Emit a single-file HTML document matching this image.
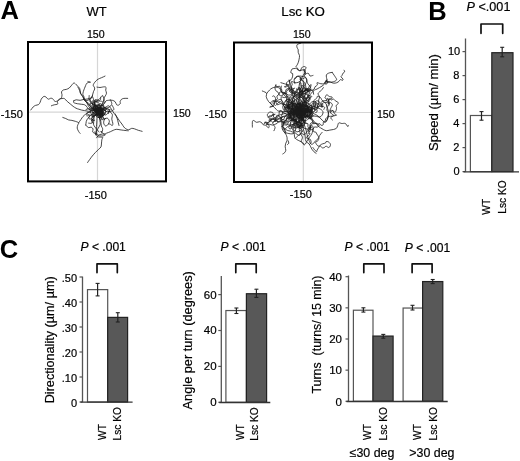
<!DOCTYPE html>
<html><head><meta charset="utf-8"><style>
html,body{margin:0;padding:0;background:#fff;}
body{width:520px;height:461px;overflow:hidden;}
svg{display:block;font-family:"Liberation Sans", sans-serif;filter:grayscale(1);}
</style></head><body>
<svg width="520" height="461" viewBox="0 0 520 461">
<rect width="520" height="461" fill="#fff"/>
<line x1="97.5" y1="43" x2="97.5" y2="180.4" stroke="#d6d6d6" stroke-width="1.2"/>
<line x1="29" y1="112.2" x2="165" y2="112.2" stroke="#d6d6d6" stroke-width="1.2"/>
<line x1="303.3" y1="43.5" x2="303.3" y2="181" stroke="#d6d6d6" stroke-width="1.2"/>
<line x1="235" y1="112.5" x2="371" y2="112.5" stroke="#d6d6d6" stroke-width="1.2"/>
<path d="M30.8 110.0 C31.2 109.5 32.4 107.7 33.2 106.9 C34.0 106.1 34.6 105.8 35.5 105.4 C36.4 105.0 37.7 105.1 38.5 104.6 C39.3 104.1 39.6 103.2 40.1 102.3 C40.6 101.4 40.7 100.1 41.2 99.2 C41.7 98.3 42.6 97.2 43.2 96.8 C43.9 96.3 44.5 96.3 45.1 96.5 C45.7 96.7 46.4 97.6 47.0 98.1 C47.6 98.5 47.9 99.2 48.5 99.2 C49.1 99.2 49.9 98.4 50.5 98.3 C51.1 98.2 51.8 98.2 52.4 98.5 C53.0 98.8 53.4 99.9 53.9 100.4 C54.4 100.9 54.9 101.4 55.5 101.5 C56.1 101.6 56.8 101.2 57.4 100.8 C58.0 100.4 58.5 99.5 59.3 99.1 C60.1 98.7 61.1 98.6 62.0 98.5 C62.9 98.4 63.5 98.1 64.4 98.6 C65.3 99.1 66.3 100.6 67.3 101.5 C68.3 102.4 69.2 103.1 70.2 103.9 C71.2 104.7 72.1 105.6 73.1 106.3 C74.1 107.0 75.0 107.7 76.0 108.2 C77.0 108.7 77.8 108.9 78.8 109.2 C79.8 109.5 80.7 109.9 81.7 110.1 C82.7 110.3 83.6 110.4 84.6 110.6 C85.6 110.8 86.5 111.0 87.5 111.1 C88.5 111.2 88.7 111.6 90.4 111.1 C92.1 110.6 96.4 108.5 97.6 108.0" fill="none" stroke="#1a1a1a" stroke-width="0.8" stroke-linejoin="round" stroke-linecap="round"/>
<path d="M51.4 105.8 C51.9 105.6 53.3 105.0 54.3 104.8 C55.3 104.5 56.6 104.6 57.2 104.3 C57.8 104.0 58.0 103.4 58.0 103.0 C58.0 102.6 56.9 102.5 57.2 101.9 C57.5 101.3 58.9 100.2 59.6 99.5 C60.3 98.8 61.1 98.4 61.5 97.6 C61.9 96.8 62.0 95.7 62.0 94.7 C62.0 93.7 61.2 92.6 61.5 91.8 C61.8 91.0 62.7 90.3 63.5 89.9 C64.3 89.5 65.3 89.7 66.3 89.4 C67.2 89.1 68.4 88.6 69.2 88.0 C70.0 87.4 70.2 86.8 71.0 86.0 C71.8 85.2 73.0 83.2 73.8 83.0 C74.6 82.8 75.0 83.6 76.0 84.5 C77.0 85.4 78.8 86.9 79.6 88.3 C80.4 89.7 80.1 91.7 80.6 93.1 C81.1 94.5 81.9 95.4 82.5 96.5 C83.1 97.6 83.7 98.8 84.4 99.8 C85.1 100.8 86.1 101.6 86.8 102.7 C87.5 103.8 87.9 105.6 88.7 106.6 C89.5 107.6 90.5 107.9 91.6 108.5 C92.6 109.1 93.6 110.2 95.0 110.0 C96.4 109.8 99.3 107.8 100.2 107.4" fill="none" stroke="#1a1a1a" stroke-width="0.8" stroke-linejoin="round" stroke-linecap="round"/>
<path d="M73.8 100.8 C74.2 100.6 75.2 99.9 76.2 99.8 C77.2 99.7 78.8 100.4 80.1 100.3 C81.4 100.2 82.6 99.6 83.9 99.4 C85.2 99.2 86.6 99.2 87.8 98.9 C89.0 98.7 90.3 98.2 91.1 97.9 C91.9 97.6 92.1 96.5 92.6 97.0 C93.1 97.5 93.5 99.5 94.0 101.0 C94.5 102.5 94.6 104.5 95.5 106.0 C96.4 107.5 98.7 109.1 99.3 109.7" fill="none" stroke="#1a1a1a" stroke-width="0.8" stroke-linejoin="round" stroke-linecap="round"/>
<path d="M74.0 100.5 C73.9 100.8 73.3 101.9 73.6 102.4 C73.9 102.9 75.1 103.2 76.0 103.4 C76.9 103.7 77.8 103.8 78.8 103.9 C79.8 104.1 80.7 104.2 81.7 104.3 C82.7 104.4 83.7 104.4 84.6 104.8 C85.5 105.2 86.3 106.1 87.0 106.8 C87.7 107.5 87.1 108.5 88.5 109.2 C89.9 109.9 94.3 110.6 95.5 110.9" fill="none" stroke="#1a1a1a" stroke-width="0.8" stroke-linejoin="round" stroke-linecap="round"/>
<path d="M83.7 99.5 C84.2 99.7 85.5 100.5 86.5 100.5 C87.5 100.5 88.6 100.0 89.4 99.5 C90.2 99.0 90.8 98.3 91.3 97.6 C91.8 96.9 92.3 95.8 92.5 95.5" fill="none" stroke="#1a1a1a" stroke-width="0.8" stroke-linejoin="round" stroke-linecap="round"/>
<path d="M87.9 81.5 C88.3 81.6 90.4 82.0 90.5 82.2 C90.6 82.4 89.1 82.3 88.5 82.5 C87.9 82.7 87.2 82.9 86.7 83.4 C86.2 83.9 86.0 84.8 85.6 85.6 C85.2 86.4 84.9 87.3 84.5 88.3 C84.1 89.3 83.6 90.6 83.3 91.7 C83.0 92.8 82.8 93.8 82.9 94.7 C83.0 95.6 84.0 96.2 84.1 97.0 C84.2 97.8 83.4 98.5 83.7 99.3 C84.0 100.1 85.1 101.0 86.0 102.0 C86.9 103.0 88.0 104.0 89.0 105.0 C90.0 106.0 91.0 107.1 92.0 108.0 C93.0 108.9 94.7 109.9 95.3 110.3" fill="none" stroke="#1a1a1a" stroke-width="0.8" stroke-linejoin="round" stroke-linecap="round"/>
<path d="M78.0 87.5 C78.2 88.0 79.1 89.2 79.5 90.2 C79.9 91.2 79.8 92.3 80.3 93.2 C80.8 94.1 81.6 94.7 82.2 95.5 C82.8 96.3 83.3 97.0 84.0 98.0 C84.7 99.0 85.5 100.4 86.5 101.5 C87.5 102.6 88.8 103.4 90.0 104.5 C91.2 105.6 93.1 107.5 94.0 108.0 C94.9 108.5 95.3 107.6 95.6 107.5" fill="none" stroke="#1a1a1a" stroke-width="0.8" stroke-linejoin="round" stroke-linecap="round"/>
<path d="M105.0 76.1 C104.4 76.4 102.7 77.2 101.5 77.7 C100.3 78.2 99.0 78.6 98.1 79.2 C97.1 79.8 96.5 80.4 95.8 81.1 C95.1 81.8 94.4 82.7 94.0 83.4 C93.6 84.1 93.2 84.7 93.2 85.3 C93.2 85.9 94.0 86.5 94.3 87.1 C94.5 87.7 94.8 88.3 94.7 89.0 C94.6 89.7 93.9 90.5 93.6 91.3 C93.3 92.1 93.1 93.0 92.8 94.0 C92.5 95.0 92.3 96.2 92.0 97.0 C91.7 97.8 91.2 98.0 90.9 98.5 C90.6 99.0 89.9 99.2 90.1 100.1 C90.3 101.0 91.2 102.8 92.0 104.0 C92.8 105.2 93.9 105.9 95.0 107.5 C96.1 109.1 97.8 112.4 98.4 113.4" fill="none" stroke="#1a1a1a" stroke-width="0.8" stroke-linejoin="round" stroke-linecap="round"/>
<path d="M97.0 87.1 C97.5 87.2 99.1 87.5 100.0 87.5 C100.9 87.5 101.5 87.2 102.3 87.1 C103.1 87.0 104.0 86.7 104.6 86.8 C105.2 86.9 105.9 86.9 106.1 87.5 C106.3 88.1 105.6 89.2 105.7 90.2 C105.8 91.2 106.6 92.2 106.5 93.2 C106.4 94.2 105.8 95.0 105.3 95.9 C104.8 96.8 104.1 97.6 103.8 98.5 C103.5 99.4 103.7 100.3 103.4 101.2 C103.1 102.1 102.8 102.7 102.2 103.7 C101.6 104.7 101.0 106.2 100.0 107.0 C99.0 107.8 96.7 108.3 96.0 108.6" fill="none" stroke="#1a1a1a" stroke-width="0.8" stroke-linejoin="round" stroke-linecap="round"/>
<path d="M127.7 98.4 C127.0 98.4 124.8 98.2 123.8 98.4 C122.8 98.6 122.0 98.8 121.4 99.4 C120.8 100.0 120.2 101.2 120.0 101.8 C119.8 102.4 120.7 102.7 120.5 103.2 C120.3 103.8 119.2 104.8 118.6 105.1 C117.9 105.3 117.2 105.2 116.6 104.7 C116.0 104.2 115.9 102.5 115.2 101.8 C114.5 101.1 113.4 100.5 112.3 100.3 C111.2 100.0 109.5 100.2 108.5 100.3 C107.5 100.4 106.8 100.4 106.1 100.8 C105.4 101.2 105.3 101.8 104.6 102.7 C103.9 103.6 102.8 105.0 102.0 106.0 C101.2 107.0 100.3 107.1 100.0 108.5 C99.7 109.9 100.0 113.4 100.0 114.4" fill="none" stroke="#1a1a1a" stroke-width="0.8" stroke-linejoin="round" stroke-linecap="round"/>
<path d="M110.4 99.8 C110.6 100.5 111.9 102.6 111.8 103.7 C111.7 104.8 110.9 105.8 109.9 106.6 C108.9 107.4 107.3 107.9 106.0 108.5 C104.7 109.1 103.1 109.8 102.0 110.0 C100.9 110.2 100.0 110.0 99.6 110.0" fill="none" stroke="#1a1a1a" stroke-width="0.8" stroke-linejoin="round" stroke-linecap="round"/>
<path d="M112.3 105.6 C112.5 106.2 114.2 108.5 113.8 109.5 C113.4 110.5 111.5 111.2 110.0 111.5 C108.5 111.8 106.2 111.7 105.0 111.0 C103.8 110.3 103.2 107.8 102.8 107.2" fill="none" stroke="#1a1a1a" stroke-width="0.8" stroke-linejoin="round" stroke-linecap="round"/>
<path d="M62.8 117.5 C63.3 117.7 64.8 118.1 65.7 118.5 C66.7 118.9 67.5 119.6 68.5 119.9 C69.5 120.2 70.8 120.2 71.9 120.4 C73.0 120.6 74.2 120.9 75.3 121.3 C76.4 121.7 78.2 122.1 78.6 122.8 C79.0 123.5 77.9 124.3 77.7 125.2 C77.5 126.1 77.1 127.1 77.2 128.1 C77.3 129.1 78.1 130.5 78.6 131.4 C79.1 132.3 79.8 133.1 80.1 133.4" fill="none" stroke="#1a1a1a" stroke-width="0.8" stroke-linejoin="round" stroke-linecap="round"/>
<path d="M78.6 122.8 C79.0 122.2 80.3 120.5 81.0 119.4 C81.7 118.4 82.2 117.4 83.0 116.5 C83.8 115.6 84.7 114.9 85.8 114.1 C86.9 113.3 88.6 112.3 89.7 111.7 C90.8 111.1 90.6 110.7 92.6 110.3 C94.6 109.9 100.3 109.3 101.9 109.1" fill="none" stroke="#1a1a1a" stroke-width="0.8" stroke-linejoin="round" stroke-linecap="round"/>
<path d="M85.8 125.2 C85.9 124.5 86.0 122.4 86.3 121.3 C86.6 120.2 87.1 119.5 87.8 118.5 C88.5 117.5 89.3 116.5 90.2 115.6 C91.1 114.7 92.1 114.5 93.1 113.2 C94.1 111.9 95.6 108.7 96.2 107.7" fill="none" stroke="#1a1a1a" stroke-width="0.8" stroke-linejoin="round" stroke-linecap="round"/>
<path d="M85.8 125.2 C86.3 125.6 87.8 127.3 88.7 127.6 C89.6 127.9 90.4 126.9 91.1 127.1 C91.8 127.3 92.8 128.2 93.1 129.0 C93.3 129.8 92.3 131.2 92.6 131.9 C92.9 132.6 94.2 133.0 95.0 133.4 C95.8 133.8 96.7 133.9 97.4 134.3 C98.1 134.7 98.3 135.6 99.3 135.8 C100.3 136.1 102.2 136.0 103.2 135.8 C104.2 135.6 105.3 135.1 105.4 134.8 C105.5 134.5 104.3 134.0 103.6 133.9 C102.9 133.8 101.9 134.1 101.0 134.3 C100.1 134.5 99.1 134.6 98.4 135.2 C97.7 135.8 97.0 137.4 96.7 137.8" fill="none" stroke="#1a1a1a" stroke-width="0.8" stroke-linejoin="round" stroke-linecap="round"/>
<path d="M93.5 114.6 C93.6 115.4 94.0 117.8 94.0 119.4 C94.0 121.0 93.3 122.9 93.5 124.2 C93.7 125.5 94.3 126.1 95.0 127.1 C95.7 128.1 96.7 129.2 97.4 130.0 C98.1 130.8 98.7 131.7 99.0 132.0" fill="none" stroke="#1a1a1a" stroke-width="0.8" stroke-linejoin="round" stroke-linecap="round"/>
<path d="M99.3 115.6 C99.4 116.4 99.6 119.0 99.8 120.4 C100.0 121.8 100.5 122.9 100.3 124.2 C100.0 125.5 98.9 127.0 98.3 128.1 C97.7 129.2 96.9 129.8 96.5 131.0 C96.1 132.2 96.0 135.1 95.8 135.2 C95.5 135.3 95.1 132.3 95.0 131.7" fill="none" stroke="#1a1a1a" stroke-width="0.8" stroke-linejoin="round" stroke-linecap="round"/>
<path d="M97.5 113.3 C97.4 113.8 97.1 114.6 97.0 116.0 C96.9 117.4 96.9 119.5 96.8 122.0 C96.7 124.5 96.2 128.7 96.3 131.1 C96.4 133.5 96.3 135.3 97.2 136.3 C98.1 137.3 100.6 137.0 101.5 137.2 C102.4 137.4 102.7 137.0 102.8 137.4 C102.9 137.8 102.1 138.6 101.9 139.5 C101.7 140.4 101.7 141.8 101.5 143.0 C101.3 144.2 101.5 145.8 101.0 146.9 C100.5 148.0 99.3 148.6 98.4 149.5 C97.5 150.4 96.4 151.4 95.4 152.5 C94.4 153.6 93.2 154.8 92.3 156.0 C91.3 157.2 90.5 158.4 89.7 159.5 C88.9 160.6 87.9 162.0 87.6 162.5" fill="none" stroke="#1a1a1a" stroke-width="0.8" stroke-linejoin="round" stroke-linecap="round"/>
<path d="M142.1 131.3 C141.5 131.1 139.6 130.7 138.3 130.3 C137.0 129.9 135.5 129.1 134.4 128.8 C133.3 128.5 132.4 128.2 131.5 128.4 C130.6 128.6 129.6 129.7 128.7 129.8 C127.7 129.9 126.6 129.3 125.8 128.8 C125.0 128.3 124.4 127.7 123.8 126.9 C123.2 126.1 122.5 124.9 121.9 124.0 C121.3 123.1 120.6 122.5 120.0 121.6 C119.4 120.7 118.7 119.8 118.1 118.8 C117.5 117.8 116.8 116.8 116.2 115.9 C115.6 115.0 114.9 114.4 114.2 113.5 C113.5 112.6 112.9 111.6 112.3 110.6 C111.7 109.6 111.0 108.5 110.4 107.7 C109.8 106.9 109.6 105.8 108.5 105.8 C107.4 105.8 106.0 107.1 104.0 108.0 C102.0 108.9 97.7 110.9 96.4 111.5" fill="none" stroke="#1a1a1a" stroke-width="0.8" stroke-linejoin="round" stroke-linecap="round"/>
<path d="M128.2 130.8 C127.5 130.7 125.2 130.5 123.8 130.3 C122.4 130.1 121.3 130.0 120.0 129.8 C118.7 129.6 117.3 129.2 116.2 129.3 C115.1 129.4 114.3 129.9 113.3 130.3 C112.3 130.7 111.5 131.2 110.4 131.7 C109.3 132.2 107.6 132.8 106.5 133.2 C105.4 133.6 104.6 134.5 103.7 134.1 C102.8 133.7 101.3 131.2 101.0 131.0 C100.7 130.8 101.4 133.1 101.7 132.7 C102.0 132.3 102.8 129.9 102.7 128.8 C102.6 127.7 101.6 127.3 101.3 126.0 C101.0 124.7 101.2 122.9 100.8 121.2 C100.4 119.5 99.1 117.9 99.0 116.0 C98.9 114.1 99.9 110.8 100.1 109.8" fill="none" stroke="#1a1a1a" stroke-width="0.8" stroke-linejoin="round" stroke-linecap="round"/>
<path d="M115.2 113.9 C115.5 114.6 116.6 116.9 117.1 118.3 C117.6 119.7 117.8 120.9 118.1 122.1 C118.4 123.3 118.8 124.9 119.0 125.5" fill="none" stroke="#1a1a1a" stroke-width="0.8" stroke-linejoin="round" stroke-linecap="round"/>
<path d="M109.4 111.5 C109.9 112.0 111.9 113.1 112.3 114.4 C112.7 115.7 111.7 117.8 111.8 119.2 C111.9 120.7 112.7 122.0 112.8 123.1 C112.9 124.1 112.8 125.3 112.3 125.5 C111.8 125.7 110.6 124.2 110.0 124.0 C109.4 123.8 108.6 124.5 108.5 124.0 C108.4 123.5 109.6 122.2 109.4 121.2 C109.2 120.2 108.3 118.6 107.5 118.3 C106.7 118.0 105.2 118.4 104.6 119.2 C104.0 120.0 103.5 122.0 103.7 123.1 C103.9 124.2 104.8 125.8 105.6 126.0 C106.4 126.2 108.0 124.3 108.5 124.0" fill="none" stroke="#1a1a1a" stroke-width="0.8" stroke-linejoin="round" stroke-linecap="round"/>
<path d="M98.8 109.8 C98.6 110.1 98.1 111.1 97.8 111.6 C97.6 112.1 97.4 112.8 97.1 113.0 C96.7 113.2 96.2 112.7 95.8 112.7 C95.5 112.8 95.2 113.1 94.8 113.2 C94.4 113.4 93.9 113.4 93.5 113.7 C93.2 114.0 92.7 114.5 92.6 115.0 C92.5 115.5 93.2 116.3 93.1 116.7 C93.0 117.0 92.4 116.9 92.2 117.2 C92.0 117.5 92.1 117.9 92.0 118.5 C91.9 119.1 91.8 120.6 91.7 120.8 C91.7 121.0 91.3 119.9 91.6 119.8 C91.8 119.6 92.8 119.8 93.3 119.9 C93.7 120.1 94.2 121.0 94.3 120.9 C94.4 120.9 93.9 119.8 93.8 119.6" fill="none" stroke="#1a1a1a" stroke-width="0.8" stroke-linejoin="round" stroke-linecap="round"/>
<path d="M98.2 110.4 C98.5 110.5 99.3 111.2 99.8 111.4 C100.2 111.6 100.3 111.7 100.8 111.4 C101.2 111.2 102.6 110.4 102.6 110.0 C102.6 109.7 101.4 109.3 100.7 109.2 C100.1 109.0 99.2 109.1 98.9 108.9 C98.6 108.7 99.0 108.3 98.9 108.0 C98.8 107.7 98.3 107.6 98.1 107.3 C97.8 107.1 97.7 106.9 97.5 106.5 C97.2 106.2 97.1 105.7 96.8 105.5 C96.4 105.3 95.8 105.4 95.3 105.2 C94.9 105.0 94.6 104.5 94.1 104.3 C93.6 104.1 92.5 104.3 92.4 104.0 C92.4 103.6 93.5 102.6 93.8 102.3" fill="none" stroke="#1a1a1a" stroke-width="0.8" stroke-linejoin="round" stroke-linecap="round"/>
<path d="M98.0 110.2 C98.3 110.2 99.0 110.2 99.5 110.2 C99.9 110.3 100.2 110.2 100.6 110.4 C101.0 110.6 101.9 111.5 101.9 111.6 C102.0 111.8 101.2 111.4 100.9 111.2 C100.5 111.0 99.9 110.8 99.8 110.4 C99.7 110.0 99.9 108.9 100.2 108.6 C100.5 108.4 101.5 108.4 101.5 108.8 C101.5 109.1 100.5 110.6 100.2 110.6 C99.9 110.6 99.8 109.5 99.5 108.9 C99.2 108.3 98.6 107.4 98.4 107.1" fill="none" stroke="#1a1a1a" stroke-width="0.8" stroke-linejoin="round" stroke-linecap="round"/>
<path d="M98.1 110.2 C98.1 110.5 98.2 111.5 98.1 112.0 C98.0 112.5 97.7 112.7 97.4 113.0 C97.2 113.3 96.9 113.6 96.7 113.8 C96.5 114.1 96.5 114.4 96.2 114.6 C96.0 114.9 95.6 115.3 95.4 115.3 C95.1 115.4 94.8 115.3 94.5 114.9 C94.3 114.5 94.3 113.3 94.0 112.8 C93.8 112.3 93.4 112.1 93.1 112.0 C92.7 111.8 92.2 111.7 91.7 111.8 C91.1 111.9 90.4 112.5 89.7 112.6 C89.0 112.6 87.8 112.0 87.4 112.1 C87.0 112.2 87.4 112.8 87.3 113.1 C87.2 113.4 86.9 113.5 86.8 114.0 C86.8 114.5 87.2 115.7 87.2 116.1" fill="none" stroke="#1a1a1a" stroke-width="0.8" stroke-linejoin="round" stroke-linecap="round"/>
<path d="M99.5 110.3 C99.7 110.2 100.6 110.1 100.8 109.7 C101.0 109.3 100.7 107.8 100.7 107.7 C100.7 107.6 100.6 108.5 100.7 109.0 C100.9 109.6 101.2 110.5 101.6 111.0 C101.9 111.5 102.7 111.6 102.9 112.0 C103.1 112.3 102.5 112.7 102.6 113.1 C102.7 113.6 103.1 114.6 103.4 114.6 C103.7 114.6 104.1 113.3 104.3 113.0" fill="none" stroke="#1a1a1a" stroke-width="0.8" stroke-linejoin="round" stroke-linecap="round"/>
<path d="M99.0 111.3 C98.9 111.5 98.4 112.1 98.4 112.4 C98.4 112.7 98.9 112.8 99.2 113.0 C99.4 113.1 99.6 113.3 100.0 113.4 C100.4 113.6 101.5 113.5 101.8 113.9 C102.2 114.4 102.2 116.2 102.1 116.2 C102.1 116.2 101.2 114.6 101.4 114.0 C101.5 113.4 102.7 112.9 103.0 112.4 C103.3 112.0 103.0 111.5 103.2 111.2 C103.3 110.9 103.9 110.6 104.1 110.5" fill="none" stroke="#1a1a1a" stroke-width="0.8" stroke-linejoin="round" stroke-linecap="round"/>
<path d="M96.7 111.1 C96.8 111.2 97.3 111.7 97.6 112.1 C98.0 112.5 98.5 113.0 98.8 113.5 C99.1 114.0 98.9 114.5 99.2 114.9 C99.6 115.3 100.6 115.5 100.8 116.0 C101.1 116.4 100.8 117.5 100.8 117.5 C100.7 117.5 100.5 115.7 100.5 115.7 C100.6 115.7 101.1 117.3 100.9 117.6 C100.7 117.9 99.8 117.5 99.3 117.4 C98.9 117.3 98.4 117.3 98.2 117.3" fill="none" stroke="#1a1a1a" stroke-width="0.8" stroke-linejoin="round" stroke-linecap="round"/>
<path d="M98.7 111.9 C98.4 111.8 97.2 111.4 96.8 111.6 C96.5 111.8 96.3 112.8 96.6 113.2 C96.9 113.6 98.3 113.8 98.6 114.1 C99.0 114.4 99.1 114.8 98.7 115.0 C98.4 115.2 97.3 115.1 96.7 115.2 C96.0 115.3 95.2 115.4 94.7 115.6 C94.3 115.8 94.5 116.4 94.0 116.5 C93.6 116.6 92.3 116.3 91.9 116.3" fill="none" stroke="#1a1a1a" stroke-width="0.8" stroke-linejoin="round" stroke-linecap="round"/>
<path d="M99.0 110.8 C98.7 110.9 97.8 111.3 97.3 111.4 C96.9 111.6 96.7 112.2 96.4 111.9 C96.0 111.7 95.8 110.3 95.3 110.0 C94.9 109.6 94.0 110.2 93.6 109.8 C93.3 109.5 93.3 107.8 93.2 107.7 C93.2 107.6 93.2 109.0 93.2 109.3" fill="none" stroke="#1a1a1a" stroke-width="0.8" stroke-linejoin="round" stroke-linecap="round"/>
<path d="M99.9 111.4 C100.1 111.6 101.1 112.6 101.4 112.6 C101.8 112.6 101.8 111.7 101.7 111.5 C101.5 111.3 100.9 111.3 100.6 111.3 C100.3 111.4 100.0 111.4 99.7 111.7 C99.3 112.0 98.4 112.8 98.5 113.2 C98.6 113.6 99.6 114.0 100.3 114.2 C100.9 114.5 102.0 114.5 102.4 114.7 C102.8 114.9 102.7 115.2 102.8 115.5 C102.9 115.9 102.8 116.1 102.9 116.6 C103.1 117.1 103.7 118.1 103.9 118.6 C104.1 119.0 103.9 119.5 104.2 119.5 C104.5 119.5 105.6 118.6 105.7 118.5 C105.7 118.3 105.0 118.5 104.5 118.7 C104.0 118.8 103.0 119.4 102.7 119.6" fill="none" stroke="#1a1a1a" stroke-width="0.8" stroke-linejoin="round" stroke-linecap="round"/>
<path d="M99.9 112.0 C99.9 111.6 99.9 110.4 99.8 109.7 C99.8 109.0 99.2 107.8 99.5 107.5 C99.8 107.2 101.0 107.6 101.6 107.9 C102.1 108.1 102.5 108.5 102.8 108.8 C103.0 109.2 102.9 109.3 103.1 109.8 C103.2 110.3 103.6 111.0 103.6 111.6 C103.5 112.2 103.3 113.0 102.9 113.5 C102.5 114.0 101.7 114.1 101.3 114.6 C100.9 115.0 100.8 116.2 100.4 116.2 C100.0 116.2 99.0 114.7 98.9 114.5 C98.9 114.2 99.9 114.4 100.1 114.6 C100.3 114.9 99.9 115.6 100.1 116.2 C100.3 116.9 100.9 117.8 101.1 118.4 C101.2 119.0 101.1 119.6 101.1 119.9" fill="none" stroke="#1a1a1a" stroke-width="0.8" stroke-linejoin="round" stroke-linecap="round"/>
<path d="M98.6 110.1 C98.4 110.1 97.9 109.9 97.6 110.1 C97.2 110.3 97.1 111.2 96.6 111.4 C96.1 111.5 95.1 111.0 94.7 111.2 C94.3 111.3 94.7 112.2 94.3 112.4 C93.8 112.7 92.2 112.6 92.0 112.5 C91.8 112.4 92.8 111.6 93.0 111.8 C93.2 112.0 93.3 113.4 93.0 114.0 C92.7 114.5 91.7 115.0 91.2 115.1 C90.7 115.3 90.6 115.2 90.0 115.1 C89.5 115.0 88.0 114.7 87.9 114.8 C87.8 114.9 89.4 115.3 89.6 115.7 C89.7 116.1 89.0 116.7 88.9 117.3 C88.9 117.8 88.9 118.6 89.2 118.9 C89.4 119.2 90.2 119.0 90.5 119.0" fill="none" stroke="#1a1a1a" stroke-width="0.8" stroke-linejoin="round" stroke-linecap="round"/>
<path d="M99.0 110.5 C99.3 110.5 100.2 110.3 100.8 110.3 C101.5 110.3 102.5 110.5 103.0 110.5 C103.4 110.4 103.5 109.9 103.8 110.0 C104.2 110.0 104.6 110.8 105.0 110.7 C105.4 110.6 105.9 109.7 106.3 109.6 C106.7 109.5 106.9 110.0 107.3 110.0 C107.8 110.0 108.5 109.8 108.9 109.7 C109.4 109.7 109.9 109.6 110.1 109.6" fill="none" stroke="#1a1a1a" stroke-width="0.8" stroke-linejoin="round" stroke-linecap="round"/>
<path d="M99.4 111.6 C99.6 111.8 100.2 112.3 100.5 112.8 C100.8 113.3 101.2 114.2 101.1 114.6 C100.9 114.9 100.1 115.1 99.8 115.0 C99.6 114.9 99.5 114.2 99.6 114.1 C99.7 113.9 100.5 113.7 100.5 113.9 C100.5 114.2 99.9 115.2 99.8 115.4" fill="none" stroke="#1a1a1a" stroke-width="0.8" stroke-linejoin="round" stroke-linecap="round"/>
<path d="M98.9 111.1 C99.0 110.9 99.2 109.7 99.1 109.6 C99.1 109.6 98.8 110.5 98.5 111.0 C98.3 111.4 97.6 112.0 97.7 112.4 C97.7 112.7 99.0 112.8 98.9 113.0 C98.8 113.2 97.4 113.4 96.9 113.7 C96.4 114.0 95.9 114.6 96.0 114.8 C96.1 115.1 97.0 114.9 97.4 115.1 C97.7 115.3 97.7 115.5 98.0 115.9 C98.2 116.3 98.5 117.4 98.7 117.7" fill="none" stroke="#1a1a1a" stroke-width="0.8" stroke-linejoin="round" stroke-linecap="round"/>
<path d="M98.8 110.9 C98.4 111.0 97.1 111.7 96.5 111.5 C96.0 111.4 95.8 110.5 95.5 110.1 C95.2 109.7 95.0 109.5 94.7 109.3 C94.3 109.1 93.6 109.1 93.5 108.8 C93.3 108.5 93.6 108.1 93.8 107.5 C93.9 106.9 94.2 106.0 94.3 105.2 C94.4 104.5 94.4 103.6 94.5 103.1 C94.6 102.5 94.8 102.2 95.0 102.0 C95.2 101.7 95.5 101.3 95.8 101.4 C96.1 101.4 96.7 102.0 96.9 102.2" fill="none" stroke="#1a1a1a" stroke-width="0.8" stroke-linejoin="round" stroke-linecap="round"/>
<path d="M99.0 112.2 C99.2 112.4 99.7 113.3 100.1 113.6 C100.5 113.8 101.1 113.8 101.5 113.8 C101.9 113.7 102.3 113.0 102.4 113.3 C102.6 113.6 102.7 114.9 102.6 115.6 C102.4 116.3 101.7 116.9 101.6 117.5 C101.5 118.2 101.7 119.4 102.0 119.5 C102.3 119.6 103.4 118.6 103.4 118.2 C103.5 117.7 102.8 117.2 102.5 116.9 C102.2 116.6 101.7 116.4 101.5 116.4" fill="none" stroke="#1a1a1a" stroke-width="0.8" stroke-linejoin="round" stroke-linecap="round"/>
<path d="M100.1 109.9 C99.9 109.9 99.2 109.4 99.0 109.7 C98.8 110.0 98.9 111.1 99.0 111.8 C99.0 112.4 99.6 113.1 99.4 113.8 C99.3 114.4 98.0 115.0 98.1 115.5 C98.1 115.9 99.3 116.2 99.7 116.3 C100.2 116.5 100.4 116.6 100.7 116.4 C101.0 116.3 101.2 116.1 101.4 115.6 C101.5 115.1 101.5 114.1 101.8 113.5 C102.1 113.0 103.0 112.7 103.0 112.3 C102.9 111.8 102.1 110.9 101.7 110.9 C101.3 110.8 100.5 112.0 100.5 111.8 C100.4 111.7 101.1 110.6 101.3 110.1 C101.6 109.5 102.2 108.9 102.1 108.6 C102.1 108.4 101.3 108.7 101.1 108.7" fill="none" stroke="#1a1a1a" stroke-width="0.8" stroke-linejoin="round" stroke-linecap="round"/>
<path d="M98.7 110.8 C98.5 111.0 98.1 112.0 97.5 112.3 C96.9 112.6 95.5 112.9 95.2 112.8 C95.0 112.6 96.2 111.9 96.1 111.4 C96.1 111.0 95.0 110.5 95.0 110.0 C94.9 109.4 95.9 108.5 95.9 108.2 C95.9 107.8 95.2 107.6 95.0 107.7 C94.7 107.8 94.6 108.3 94.4 108.7 C94.2 109.0 93.9 109.9 93.7 109.8 C93.6 109.7 93.4 108.6 93.5 108.1 C93.5 107.6 93.7 107.4 93.9 106.9 C94.1 106.4 94.7 105.7 94.7 105.2 C94.7 104.7 94.5 104.0 94.2 104.0 C94.0 104.0 93.4 105.1 93.2 105.3" fill="none" stroke="#1a1a1a" stroke-width="0.8" stroke-linejoin="round" stroke-linecap="round"/>
<path d="M97.7 111.1 C97.7 110.9 97.9 110.5 98.0 110.1 C98.0 109.7 97.9 109.1 97.8 108.5 C97.7 108.0 97.3 107.6 97.4 107.0 C97.5 106.3 97.7 105.0 98.2 104.8 C98.7 104.5 99.6 105.1 100.3 105.3 C101.0 105.4 101.9 105.4 102.5 105.7 C103.1 106.0 103.6 106.7 103.9 107.1 C104.3 107.5 104.2 108.1 104.6 108.2 C105.0 108.3 106.0 107.6 106.3 107.8 C106.7 107.9 106.8 108.7 106.6 109.1 C106.5 109.4 105.9 110.0 105.4 110.1 C104.8 110.2 104.0 109.5 103.3 109.6 C102.6 109.7 101.6 110.5 101.3 110.7" fill="none" stroke="#1a1a1a" stroke-width="0.8" stroke-linejoin="round" stroke-linecap="round"/>
<path d="M99.4 110.0 C99.5 110.2 99.6 111.2 99.9 111.4 C100.1 111.7 101.0 111.4 100.9 111.7 C100.7 111.9 99.8 112.6 99.1 113.0 C98.4 113.3 97.4 113.3 96.7 113.7 C96.1 114.1 95.8 115.1 95.3 115.3 C94.8 115.6 94.2 115.2 93.8 115.3 C93.3 115.5 92.7 116.3 92.4 116.2 C92.1 116.1 92.0 115.3 91.7 114.8 C91.5 114.3 91.2 113.7 91.0 113.3 C90.8 112.9 90.6 112.8 90.4 112.3 C90.3 111.7 90.4 110.5 90.2 110.0 C90.0 109.4 89.1 109.0 89.2 109.0 C89.2 108.9 89.9 109.7 90.3 109.8 C90.8 109.9 91.2 109.6 91.9 109.4 C92.6 109.2 93.9 108.5 94.3 108.7 C94.7 108.9 94.0 110.4 94.5 110.7 C94.9 111.0 96.5 110.1 96.9 110.5 C97.4 110.8 97.1 112.1 97.2 112.6 C97.4 113.1 97.6 113.0 98.0 113.4 C98.4 113.8 99.1 114.8 99.7 114.8 C100.2 114.8 100.6 113.9 101.2 113.4 C101.7 112.9 102.6 111.9 102.9 111.6" fill="none" stroke="#1a1a1a" stroke-width="0.8" stroke-linejoin="round" stroke-linecap="round"/>
<path d="M99.3 111.3 C99.1 111.3 98.4 111.4 97.9 111.6 C97.4 111.7 96.5 111.8 96.4 112.1 C96.2 112.4 96.9 113.2 97.2 113.2 C97.4 113.2 97.5 112.6 97.8 112.2 C98.2 111.8 98.7 110.8 99.3 110.8 C99.8 110.7 100.8 111.5 101.2 112.0 C101.6 112.5 101.3 113.5 101.7 113.8 C102.2 114.2 103.3 114.0 103.9 114.2 C104.5 114.4 105.0 114.9 105.4 115.0 C105.9 115.0 106.1 114.7 106.6 114.4 C107.0 114.1 107.6 113.8 108.0 113.2 C108.4 112.6 108.4 111.4 108.7 111.0 C109.1 110.6 110.0 110.7 110.0 110.9 C110.0 111.0 109.0 111.7 108.8 111.8" fill="none" stroke="#1a1a1a" stroke-width="0.8" stroke-linejoin="round" stroke-linecap="round"/>
<path d="M99.3 111.0 C99.5 110.8 100.6 110.6 100.8 110.0 C101.0 109.5 100.8 108.6 100.6 108.0 C100.4 107.4 99.7 106.9 99.5 106.5 C99.3 106.0 99.8 105.2 99.5 105.3 C99.2 105.4 98.0 106.7 97.9 107.2 C97.9 107.7 99.0 108.1 99.0 108.5 C99.1 108.9 98.6 109.6 98.3 109.8 C98.0 109.9 97.1 109.4 97.1 109.4 C97.2 109.4 98.1 109.6 98.7 109.9 C99.4 110.2 100.7 111.2 101.0 111.2 C101.3 111.1 100.3 109.4 100.5 109.4 C100.7 109.5 102.0 110.8 102.1 111.3 C102.2 111.9 101.0 112.3 101.1 112.8 C101.1 113.3 102.3 114.0 102.6 114.4 C103.0 114.9 103.4 115.4 103.3 115.6 C103.2 115.9 101.9 115.8 102.1 115.7 C102.3 115.6 103.7 115.4 104.3 114.9 C104.8 114.4 105.3 113.0 105.3 112.7 C105.3 112.4 104.6 113.0 104.3 113.1 C103.9 113.3 103.3 113.5 103.1 113.6" fill="none" stroke="#1a1a1a" stroke-width="0.8" stroke-linejoin="round" stroke-linecap="round"/>
<path d="M98.9 112.1 C99.1 112.2 99.3 112.6 99.6 113.1 C99.9 113.5 100.8 114.5 100.8 114.8 C100.8 115.2 100.0 115.4 99.6 115.2 C99.3 115.0 98.9 114.0 98.8 113.5 C98.7 112.9 99.0 112.3 99.2 111.9 C99.3 111.5 99.4 111.0 99.7 111.0 C100.0 111.0 100.9 112.0 100.8 111.9 C100.8 111.9 99.5 111.3 99.2 110.7 C98.9 110.1 99.2 108.8 98.9 108.3 C98.7 107.8 98.2 108.0 97.7 107.6 C97.2 107.3 96.2 106.4 95.7 106.1 C95.2 105.8 95.1 105.6 94.7 105.7 C94.3 105.9 93.7 106.5 93.4 106.9 C93.1 107.4 92.8 107.9 93.1 108.3 C93.3 108.7 94.5 109.1 94.8 109.5 C95.1 109.8 94.8 110.1 94.9 110.5 C95.1 110.9 95.5 111.7 95.8 111.8 C96.1 111.9 96.2 111.0 96.7 110.9 C97.3 110.9 98.4 111.3 99.0 111.4 C99.6 111.5 100.0 111.9 100.3 111.5 C100.6 111.1 100.6 109.4 100.7 109.0" fill="none" stroke="#1a1a1a" stroke-width="0.8" stroke-linejoin="round" stroke-linecap="round"/>
<path d="M99.1 110.1 C98.9 110.2 98.0 110.9 98.0 110.7 C98.1 110.5 99.3 109.4 99.3 109.1 C99.2 108.8 97.8 108.6 97.5 108.9 C97.2 109.3 98.1 111.0 97.7 111.4 C97.3 111.8 95.8 111.5 95.2 111.4 C94.7 111.3 94.3 111.1 94.3 110.8 C94.4 110.5 95.0 110.0 95.5 109.6 C96.0 109.2 96.6 108.6 97.3 108.5 C97.9 108.3 99.0 108.2 99.4 108.5 C99.8 108.7 99.8 109.5 99.8 109.9 C99.8 110.4 99.8 110.8 99.6 111.2 C99.5 111.6 99.0 111.9 99.0 112.3 C99.0 112.8 99.4 113.7 99.7 113.9 C100.1 114.1 100.6 113.9 101.2 113.7 C101.8 113.4 103.4 112.6 103.4 112.4 C103.5 112.1 102.0 112.2 101.7 112.1" fill="none" stroke="#1a1a1a" stroke-width="0.8" stroke-linejoin="round" stroke-linecap="round"/>
<path d="M99.8 110.8 C99.4 110.9 98.0 111.3 97.4 111.5 C96.8 111.8 96.2 111.7 96.2 112.2 C96.1 112.6 97.2 113.9 97.1 114.3 C97.0 114.7 95.8 114.7 95.4 114.4 C95.1 114.2 95.0 113.5 95.0 112.9 C95.0 112.2 95.2 111.2 95.5 110.5 C95.8 109.7 96.5 108.8 96.9 108.5 C97.4 108.2 97.9 109.0 98.0 108.7 C98.1 108.4 97.4 107.0 97.5 106.5 C97.5 106.1 97.8 106.1 98.4 106.0 C99.0 105.9 100.2 105.8 100.9 105.8 C101.5 105.8 101.8 105.9 102.3 105.9 C102.8 105.9 103.6 105.8 103.8 105.8" fill="none" stroke="#1a1a1a" stroke-width="0.8" stroke-linejoin="round" stroke-linecap="round"/>
<path d="M95.8 108.9 C95.7 108.6 95.1 107.8 95.0 107.1 C94.8 106.4 95.1 105.4 94.9 104.7 C94.8 104.1 94.0 103.6 94.1 103.1 C94.3 102.6 95.2 102.1 95.9 101.8 C96.5 101.4 97.4 101.2 97.9 101.1 C98.5 100.9 98.5 100.9 99.0 100.6 C99.4 100.3 100.4 99.9 100.6 99.3 C100.9 98.7 100.3 97.5 100.5 97.1 C100.7 96.7 101.3 97.2 101.6 96.9 C102.0 96.6 102.2 95.4 102.4 95.4 C102.7 95.3 102.9 96.1 103.2 96.6 C103.5 97.1 103.9 97.7 104.1 98.4 C104.3 99.0 104.3 100.0 104.2 100.6 C104.1 101.2 103.8 101.6 103.5 102.1 C103.2 102.6 102.4 103.0 102.4 103.4 C102.3 103.8 102.9 104.6 103.0 104.8" fill="none" stroke="#1a1a1a" stroke-width="0.8" stroke-linejoin="round" stroke-linecap="round"/>
<path d="M99.0 111.3 C98.8 111.5 98.1 112.4 97.8 112.1 C97.5 111.9 97.3 110.4 97.1 109.8 C96.8 109.2 96.5 109.1 96.4 108.6 C96.2 108.2 96.1 107.6 96.1 107.0 C96.0 106.4 96.2 105.5 96.1 104.9 C96.0 104.4 95.5 104.1 95.2 103.6 C94.9 103.1 94.9 102.4 94.5 101.9 C94.0 101.4 93.1 100.8 92.5 100.8 C92.0 100.9 91.6 102.1 91.2 102.3 C90.8 102.4 90.1 102.1 89.9 101.7 C89.7 101.3 90.2 100.3 90.0 99.9 C89.8 99.5 89.1 99.5 88.9 99.2 C88.8 98.9 89.0 98.5 89.0 97.9 C89.1 97.3 89.2 96.0 89.2 95.6" fill="none" stroke="#1a1a1a" stroke-width="0.8" stroke-linejoin="round" stroke-linecap="round"/>
<path d="M99.9 111.0 C99.8 111.3 99.8 112.2 99.5 112.7 C99.2 113.2 98.5 113.8 98.0 114.0 C97.6 114.2 97.3 114.0 97.0 113.9 C96.8 113.7 96.5 113.6 96.3 113.2 C96.1 112.9 96.0 112.1 95.7 111.7 C95.4 111.3 94.8 111.0 94.6 110.7 C94.4 110.4 94.5 110.1 94.2 109.7 C94.0 109.3 93.2 108.8 92.9 108.4 C92.6 108.1 92.7 107.8 92.4 107.5 C92.0 107.2 91.3 107.1 90.9 106.7 C90.4 106.2 89.8 105.4 89.8 104.8 C89.8 104.2 90.4 103.3 90.9 103.2 C91.4 103.0 92.3 103.6 92.8 103.8 C93.4 103.9 93.9 104.0 94.2 104.3 C94.5 104.5 94.5 104.6 94.6 105.2 C94.8 105.7 95.5 107.0 95.2 107.6 C95.0 108.1 93.8 108.3 93.1 108.5 C92.3 108.6 91.5 108.6 90.9 108.6 C90.3 108.5 90.0 108.0 89.4 108.0 C88.9 108.1 88.3 108.7 87.8 108.9 C87.2 109.2 86.4 109.3 86.1 109.4" fill="none" stroke="#1a1a1a" stroke-width="0.8" stroke-linejoin="round" stroke-linecap="round"/>
<path d="M99.2 111.4 C99.4 111.7 100.3 112.4 100.5 112.8 C100.8 113.2 100.8 113.5 100.7 113.9 C100.5 114.3 100.1 115.0 99.7 115.2 C99.4 115.3 98.8 114.8 98.4 114.8 C98.0 114.9 97.4 115.8 97.2 115.6 C97.0 115.4 97.3 114.4 97.1 113.8 C96.9 113.2 96.0 112.6 95.8 111.9 C95.6 111.2 96.1 110.2 96.1 109.5 C96.0 108.7 95.5 108.0 95.5 107.5 C95.4 107.0 95.4 106.3 95.7 106.3 C96.0 106.2 96.5 106.7 97.1 107.1 C97.6 107.4 98.4 108.3 98.9 108.3 C99.3 108.3 99.5 107.2 99.8 107.0 C100.2 106.8 100.7 106.8 101.0 107.1 C101.3 107.4 101.5 108.2 101.7 108.9 C101.9 109.6 102.3 110.6 102.2 111.2 C102.1 111.7 101.6 112.0 101.1 112.2 C100.7 112.4 100.0 112.4 99.4 112.3 C98.9 112.2 98.1 111.8 97.8 111.7" fill="none" stroke="#1a1a1a" stroke-width="0.8" stroke-linejoin="round" stroke-linecap="round"/>
<path d="M100.0 112.2 C99.8 112.2 98.8 112.4 98.8 112.6 C98.8 112.7 99.9 113.0 99.7 113.2 C99.6 113.4 98.5 113.4 98.1 113.6 C97.8 113.8 98.1 114.3 97.7 114.5 C97.2 114.8 96.0 114.9 95.4 115.3 C94.8 115.6 94.6 116.1 94.0 116.5 C93.4 116.9 92.5 117.1 92.1 117.5 C91.7 117.8 91.2 118.1 91.3 118.5 C91.5 118.9 92.7 119.6 93.0 120.0 C93.2 120.5 92.9 120.8 92.7 121.2 C92.6 121.7 92.5 122.5 92.1 122.9 C91.8 123.2 91.3 123.3 90.7 123.4 C90.1 123.4 89.0 123.1 88.7 123.1" fill="none" stroke="#1a1a1a" stroke-width="0.8" stroke-linejoin="round" stroke-linecap="round"/>
<path d="M99.8 112.7 C99.7 113.0 99.4 114.3 99.3 114.8 C99.3 115.4 99.1 115.6 99.4 116.0 C99.6 116.3 100.4 116.9 100.9 117.1 C101.4 117.2 102.0 117.2 102.4 117.0 C102.7 116.7 102.7 115.9 103.1 115.5 C103.5 115.1 104.5 114.9 104.8 114.6 C105.1 114.2 104.7 114.0 104.9 113.6 C105.0 113.1 105.6 112.5 105.7 111.9 C105.8 111.2 105.4 110.5 105.3 109.8 C105.1 109.1 105.1 108.3 104.9 107.7 C104.7 107.1 104.1 106.8 103.8 106.4 C103.5 106.1 103.3 105.8 103.2 105.5 C103.1 105.2 103.1 104.8 103.3 104.4 C103.5 104.1 104.1 103.7 104.4 103.3 C104.8 102.8 105.2 101.9 105.4 101.6" fill="none" stroke="#1a1a1a" stroke-width="0.8" stroke-linejoin="round" stroke-linecap="round"/>
<path d="M99.0 111.9 C99.1 112.3 99.3 113.3 99.6 113.9 C100.0 114.6 100.7 115.4 101.1 115.7 C101.5 116.0 101.8 115.9 102.0 115.7 C102.3 115.6 102.4 115.0 102.3 114.7 C102.2 114.4 101.9 114.0 101.6 113.9 C101.2 113.8 100.9 114.2 100.4 114.0 C99.9 113.9 99.1 113.2 98.4 113.1 C97.8 112.9 96.8 113.0 96.3 113.2 C95.8 113.3 95.3 113.4 95.2 113.9 C95.2 114.4 95.7 115.5 96.0 116.0 C96.3 116.5 96.6 116.7 97.1 116.9 C97.6 117.1 98.5 117.1 98.9 117.4 C99.3 117.6 99.5 118.3 99.6 118.5" fill="none" stroke="#1a1a1a" stroke-width="0.8" stroke-linejoin="round" stroke-linecap="round"/>
<path d="M98.1 111.1 C98.1 111.3 98.3 111.7 98.4 112.1 C98.5 112.4 99.0 112.8 98.8 113.2 C98.7 113.6 97.9 114.7 97.5 114.6 C97.0 114.6 96.4 113.2 96.2 112.7 C96.0 112.2 96.1 111.8 96.4 111.6 C96.7 111.4 97.5 111.8 98.1 111.6 C98.7 111.4 99.6 110.8 100.0 110.4 C100.5 109.9 100.7 109.0 100.7 108.7 C100.6 108.3 100.1 108.2 99.6 108.3 C99.1 108.5 98.0 109.2 97.6 109.8 C97.1 110.3 96.9 111.2 96.8 111.8 C96.8 112.3 97.4 112.7 97.3 113.1 C97.1 113.4 96.6 113.6 96.1 114.0 C95.7 114.4 95.0 114.9 94.6 115.5 C94.3 116.1 94.2 117.0 94.0 117.5 C93.9 118.0 93.9 118.0 93.6 118.4 C93.3 118.8 92.5 119.2 92.2 119.8 C92.0 120.4 91.8 121.7 91.9 122.2 C92.0 122.8 92.9 122.9 93.1 123.0" fill="none" stroke="#1a1a1a" stroke-width="0.8" stroke-linejoin="round" stroke-linecap="round"/>
<path d="M97.9 110.8 C97.6 110.7 96.6 110.8 96.3 110.6 C96.0 110.3 95.8 109.6 96.0 109.1 C96.1 108.6 96.9 108.1 97.3 107.8 C97.7 107.5 97.9 107.2 98.2 107.3 C98.5 107.3 99.0 107.7 99.4 108.1 C99.7 108.5 99.9 109.3 100.3 109.6 C100.7 109.8 101.3 109.7 101.7 109.7 C102.1 109.7 102.6 109.8 102.8 109.6 C103.1 109.4 103.0 108.7 103.2 108.5 C103.5 108.3 104.0 108.5 104.2 108.5" fill="none" stroke="#1a1a1a" stroke-width="0.8" stroke-linejoin="round" stroke-linecap="round"/>
<path d="M98.6 109.2 C98.4 108.9 98.1 108.1 97.8 107.4 C97.4 106.8 96.4 105.9 96.3 105.5 C96.2 105.1 96.8 104.9 97.2 104.9 C97.6 104.9 98.7 105.6 99.0 105.4 C99.3 105.1 99.3 104.1 99.2 103.6 C99.0 103.0 98.4 102.6 98.0 102.3 C97.6 102.1 97.2 102.3 96.8 102.1 C96.5 102.0 96.3 101.9 95.9 101.7 C95.6 101.5 95.0 101.4 94.8 101.1 C94.7 100.9 94.5 100.2 94.8 100.0 C95.1 99.9 96.1 100.2 96.7 100.2 C97.3 100.1 97.8 100.0 98.2 99.8 C98.7 99.5 99.3 98.8 99.5 98.6" fill="none" stroke="#1a1a1a" stroke-width="0.8" stroke-linejoin="round" stroke-linecap="round"/>
<path d="M98.1 109.6 C97.9 109.6 97.0 109.6 97.1 109.9 C97.1 110.2 98.2 111.4 98.5 111.4 C98.8 111.3 99.1 110.3 99.0 109.8 C99.0 109.3 98.6 108.9 98.2 108.4 C97.8 107.8 96.8 107.1 96.6 106.6 C96.5 106.2 96.7 105.9 97.1 105.5 C97.6 105.1 98.8 104.6 99.3 104.3 C99.8 104.0 99.7 103.5 100.2 103.6 C100.6 103.8 101.9 104.7 102.0 105.1 C102.1 105.4 101.0 105.5 100.8 105.8 C100.6 106.1 100.5 106.4 100.8 106.8 C101.0 107.2 101.7 108.0 102.3 108.1 C102.9 108.2 103.8 107.4 104.5 107.4 C105.2 107.5 105.9 108.2 106.7 108.5 C107.4 108.7 108.4 108.9 108.9 109.2 C109.3 109.5 109.3 109.7 109.3 110.3 C109.2 110.9 108.9 112.0 108.8 112.6 C108.6 113.1 108.3 113.4 108.2 113.6" fill="none" stroke="#1a1a1a" stroke-width="0.8" stroke-linejoin="round" stroke-linecap="round"/>
<path d="M98.2 111.3 C97.8 111.2 96.8 110.5 96.1 110.4 C95.4 110.3 94.1 111.0 93.8 110.7 C93.4 110.5 93.8 109.5 93.8 109.0 C93.8 108.4 93.6 107.7 93.5 107.3 C93.4 106.9 93.4 106.9 93.3 106.4 C93.1 105.8 92.7 104.8 92.6 104.1 C92.4 103.3 92.1 102.2 92.4 101.9 C92.6 101.6 93.5 102.3 93.9 102.2 C94.3 102.1 94.5 101.6 94.7 101.3 C94.9 101.0 94.7 100.6 94.9 100.3 C95.1 100.1 95.4 99.8 96.0 99.8 C96.5 99.9 97.7 100.5 98.2 100.7 C98.8 100.9 98.8 101.0 99.3 101.1 C99.8 101.1 100.8 101.1 101.3 101.2 C101.7 101.3 102.0 101.6 102.2 101.6" fill="none" stroke="#1a1a1a" stroke-width="0.8" stroke-linejoin="round" stroke-linecap="round"/>
<path d="M300.8 43.2 C300.2 43.4 298.0 43.9 297.3 44.5 C296.6 45.1 296.8 46.2 296.9 47.1 C297.0 48.0 298.0 48.8 298.2 49.7 C298.4 50.6 298.0 51.3 298.2 52.3 C298.4 53.3 299.4 54.6 299.5 55.7 C299.6 56.9 299.3 58.0 299.1 59.2 C298.9 60.4 298.6 61.7 298.2 62.7 C297.8 63.7 297.3 64.7 296.9 65.3 C296.5 65.9 295.9 66.2 296.0 66.6 C296.1 67.0 296.9 67.3 297.3 67.9 C297.7 68.5 298.1 69.6 298.6 70.1 C299.1 70.6 300.0 71.1 300.4 70.9 C300.8 70.7 300.8 69.5 301.2 68.8 C301.6 68.1 301.9 67.4 302.5 67.0 C303.1 66.6 304.1 66.5 304.7 66.6 C305.3 66.7 305.9 67.0 306.0 67.5 C306.1 68.0 305.6 69.0 305.2 69.6 C304.8 70.2 303.9 70.5 303.9 70.9 C303.9 71.3 305.2 71.7 305.2 72.2 C305.2 72.7 304.3 73.4 303.9 74.0 C303.5 74.6 303.4 75.0 303.0 75.7 C302.6 76.4 302.2 77.2 301.7 78.3 C301.2 79.3 300.4 80.5 300.0 82.0 C299.6 83.5 299.0 85.2 299.0 87.0 C299.0 88.8 300.0 90.8 300.0 93.0 C300.0 95.2 299.0 97.8 299.0 100.0 C299.0 102.2 299.2 103.6 300.0 106.0 C300.8 108.4 303.1 112.8 303.8 114.1" fill="none" stroke="#1a1a1a" stroke-width="0.8" stroke-linejoin="round" stroke-linecap="round"/>
<path d="M294.7 79.2 C295.1 78.8 296.3 77.1 297.3 76.6 C298.3 76.1 299.5 76.0 300.8 76.1 C302.1 76.2 304.2 76.8 305.2 77.4 C306.2 78.1 306.9 78.7 306.9 80.0 C306.9 81.3 305.8 83.3 305.0 85.0 C304.2 86.7 302.3 88.2 302.0 90.0 C301.7 91.8 303.2 93.8 303.0 96.0 C302.8 98.2 302.2 99.6 301.0 103.0 C299.8 106.4 296.7 114.2 295.9 116.5" fill="none" stroke="#1a1a1a" stroke-width="0.8" stroke-linejoin="round" stroke-linecap="round"/>
<path d="M262.3 91.0 C262.7 91.2 264.1 91.6 264.8 92.0 C265.5 92.4 266.5 92.7 266.7 93.4 C266.9 94.1 266.1 95.4 266.2 96.4 C266.3 97.4 266.8 98.4 267.2 99.3 C267.6 100.2 268.1 101.0 268.7 101.7 C269.3 102.4 270.0 103.1 270.6 103.7 C271.2 104.3 272.0 104.9 272.6 105.6 C273.2 106.2 273.9 107.0 274.5 107.6 C275.1 108.2 275.4 108.5 276.0 109.1 C276.6 109.7 276.9 110.6 278.4 111.0 C279.9 111.4 282.7 111.5 285.0 111.5 C287.3 111.5 289.5 110.8 292.0 111.0 C294.5 111.2 298.6 112.6 299.9 113.0" fill="none" stroke="#1a1a1a" stroke-width="0.8" stroke-linejoin="round" stroke-linecap="round"/>
<path d="M266.7 93.4 C267.2 92.8 268.7 90.9 269.6 90.0 C270.5 89.1 271.1 88.6 272.1 88.1 C273.1 87.6 274.4 87.2 275.5 87.1 C276.6 87.0 277.6 87.2 278.4 87.6 C279.2 88.0 279.8 88.7 280.4 89.5 C281.0 90.3 281.4 91.7 281.9 92.5 C282.4 93.3 282.7 93.8 283.3 94.4 C283.9 95.1 284.7 95.8 285.3 96.4 C285.9 97.1 286.1 97.7 286.7 98.3 C287.3 98.9 287.8 99.3 288.7 100.3 C289.6 101.2 290.8 102.7 292.0 104.0 C293.2 105.3 294.0 106.3 296.0 108.0 C298.0 109.7 302.7 113.1 304.1 114.1" fill="none" stroke="#1a1a1a" stroke-width="0.8" stroke-linejoin="round" stroke-linecap="round"/>
<path d="M272.6 96.4 C272.8 96.3 273.5 95.6 274.0 95.9 C274.5 96.2 275.2 97.2 275.5 98.3 C275.8 99.3 275.7 101.1 276.0 102.2 C276.3 103.3 276.8 104.5 277.5 104.7 C278.2 105.0 279.4 103.8 280.4 103.7 C281.4 103.6 282.0 103.8 283.3 104.2 C284.6 104.6 286.4 105.2 288.0 106.0 C289.6 106.8 290.7 108.4 293.0 109.0 C295.3 109.6 300.5 109.5 302.0 109.6" fill="none" stroke="#1a1a1a" stroke-width="0.8" stroke-linejoin="round" stroke-linecap="round"/>
<path d="M280.9 82.7 C281.5 82.9 283.2 83.4 284.3 83.7 C285.4 84.0 286.3 84.5 287.2 84.6 C288.1 84.7 289.4 85.0 289.7 84.2 C290.0 83.4 289.0 79.6 289.2 79.8 C289.4 80.0 290.1 84.0 290.6 85.6 C291.1 87.2 291.8 88.2 292.1 89.5 C292.4 90.8 292.3 92.0 292.6 93.4 C292.9 94.8 293.6 96.4 294.0 98.0 C294.4 99.6 294.5 101.3 295.0 103.0 C295.5 104.7 296.8 107.3 297.0 108.0 C297.2 108.7 296.5 107.5 296.5 107.4" fill="none" stroke="#1a1a1a" stroke-width="0.8" stroke-linejoin="round" stroke-linecap="round"/>
<path d="M281.4 86.1 C281.3 86.8 280.6 89.3 280.9 90.5 C281.2 91.7 282.1 92.2 283.0 93.0 C283.9 93.8 285.0 94.0 286.0 95.0 C287.0 96.0 288.0 97.7 289.0 99.0 C290.0 100.3 291.2 100.1 292.0 103.0 C292.8 105.9 293.6 114.2 293.9 116.4" fill="none" stroke="#1a1a1a" stroke-width="0.8" stroke-linejoin="round" stroke-linecap="round"/>
<path d="M295.0 83.7 C294.9 83.0 293.9 81.0 294.1 79.8 C294.3 78.6 295.2 77.4 296.0 76.8 C296.8 76.2 298.2 76.0 299.0 76.3 C299.8 76.6 300.2 78.1 300.9 78.8 C301.5 79.5 302.5 79.7 302.9 80.7 C303.3 81.7 303.6 83.1 303.5 85.0 C303.4 86.9 302.6 89.5 302.0 92.0 C301.4 94.5 299.6 96.3 300.0 100.0 C300.4 103.7 303.7 111.7 304.4 114.0" fill="none" stroke="#1a1a1a" stroke-width="0.8" stroke-linejoin="round" stroke-linecap="round"/>
<path d="M332.2 72.4 C331.7 72.5 330.3 72.5 329.3 72.9 C328.3 73.3 326.8 73.8 326.4 74.9 C326.0 76.1 326.8 78.7 326.9 79.8 C327.0 80.9 326.7 81.3 327.3 81.7 C327.9 82.1 329.2 82.2 330.3 82.2 C331.4 82.2 332.6 82.1 333.7 81.7 C334.8 81.3 336.4 80.6 336.6 79.8 C336.9 79.0 335.8 77.8 335.2 76.8 C334.6 75.8 333.7 74.6 333.2 73.9 C332.7 73.2 332.4 72.7 332.2 72.4" fill="none" stroke="#1a1a1a" stroke-width="0.8" stroke-linejoin="round" stroke-linecap="round"/>
<path d="M326.9 79.8 C326.7 80.2 326.3 81.5 325.9 82.2 C325.5 82.9 325.0 83.6 324.4 84.2 C323.8 84.8 322.8 85.5 322.0 86.1 C321.2 86.7 320.3 87.1 319.5 87.6 C318.7 88.1 317.9 88.6 317.1 89.0 C316.3 89.4 315.3 89.6 314.6 90.0 C313.9 90.4 313.3 90.9 312.7 91.5 C312.1 92.1 311.8 92.7 311.2 93.4 C310.6 94.2 309.9 94.9 309.0 96.0 C308.1 97.1 307.0 98.5 306.0 100.0 C305.0 101.5 304.9 102.7 303.0 105.0 C301.1 107.3 296.0 112.5 294.5 114.0" fill="none" stroke="#1a1a1a" stroke-width="0.8" stroke-linejoin="round" stroke-linecap="round"/>
<path d="M323.4 87.6 C323.2 87.9 322.6 88.8 322.0 89.5 C321.4 90.2 320.1 91.3 319.5 92.0 C318.9 92.7 318.2 92.8 318.1 93.4 C318.0 94.1 318.5 95.1 319.0 95.9 C319.5 96.7 320.5 97.6 321.0 98.3 C321.5 99.0 321.4 99.6 322.0 100.3 C322.6 101.0 323.7 101.5 324.4 102.2 C325.1 102.9 325.9 103.4 326.4 104.2 C326.9 105.0 327.2 106.1 327.3 107.1 C327.4 108.1 326.7 109.0 326.9 110.0 C327.1 111.0 328.2 111.5 328.3 113.0 C328.4 114.5 327.9 117.8 327.4 119.3 C326.9 120.8 325.5 121.8 325.1 122.3" fill="none" stroke="#1a1a1a" stroke-width="0.8" stroke-linejoin="round" stroke-linecap="round"/>
<path d="M300.0 79.8 C300.2 79.9 300.9 80.1 301.5 80.3 C302.1 80.5 302.8 80.6 303.4 81.2 C304.0 81.8 304.5 82.6 304.9 83.7 C305.3 84.8 306.0 86.1 306.0 88.0 C306.0 89.9 305.5 92.7 305.0 95.0 C304.5 97.3 303.7 99.4 303.0 102.0 C302.3 104.6 301.4 109.3 301.1 110.7" fill="none" stroke="#1a1a1a" stroke-width="0.8" stroke-linejoin="round" stroke-linecap="round"/>
<path d="M303.9 70.0 C304.1 70.5 304.8 71.9 304.9 72.9 C305.0 73.9 304.2 75.1 304.4 75.9 C304.6 76.7 305.5 77.0 305.9 77.8 C306.3 78.6 306.5 79.7 306.8 80.7 C307.1 81.7 307.3 82.8 307.8 83.7 C308.3 84.6 309.3 85.3 309.8 86.1 C310.3 86.9 310.8 87.3 310.7 88.6 C310.6 89.9 309.8 92.3 309.0 94.0 C308.2 95.7 307.0 97.2 306.0 99.0 C305.0 100.8 304.8 102.4 303.0 105.0 C301.2 107.6 296.4 112.9 295.1 114.5" fill="none" stroke="#1a1a1a" stroke-width="0.8" stroke-linejoin="round" stroke-linecap="round"/>
<path d="M348.3 125.3 C348.2 125.5 348.2 126.8 347.7 126.5 C347.2 126.2 346.3 124.0 345.3 123.5 C344.3 123.0 342.9 123.6 341.8 123.5 C340.7 123.4 339.5 122.5 338.8 122.9 C338.1 123.3 338.0 125.0 337.6 125.9 C337.2 126.8 337.1 127.7 336.4 128.3 C335.7 128.9 334.5 129.2 333.4 129.5 C332.3 129.8 331.0 129.9 329.8 130.1 C328.6 130.3 327.4 130.8 326.3 130.7 C325.2 130.6 324.3 130.0 323.3 129.5 C322.3 129.0 321.2 128.3 320.3 127.7 C319.4 127.1 318.7 126.7 317.9 125.9 C317.1 125.1 316.3 123.8 315.5 122.9 C314.7 122.0 314.0 121.3 313.1 120.5 C312.2 119.7 311.2 118.9 310.0 118.0 C308.8 117.1 307.5 116.6 306.0 115.0 C304.5 113.4 302.0 109.6 301.3 108.5" fill="none" stroke="#1a1a1a" stroke-width="0.8" stroke-linejoin="round" stroke-linecap="round"/>
<path d="M326.3 105.0 C326.6 105.8 327.6 108.2 328.0 109.8 C328.4 111.4 328.7 112.9 328.6 114.5 C328.5 116.1 328.0 118.0 327.4 119.3 C326.8 120.6 326.0 122.2 325.1 122.3 C324.2 122.4 323.2 121.0 322.0 120.0 C320.8 119.0 319.7 117.2 318.0 116.0 C316.3 114.8 315.4 114.3 312.0 113.0 C308.6 111.7 299.9 108.9 297.5 108.1" fill="none" stroke="#1a1a1a" stroke-width="0.8" stroke-linejoin="round" stroke-linecap="round"/>
<path d="M316.7 107.4 C317.5 107.8 320.4 108.9 321.5 109.8 C322.6 110.7 323.2 111.8 323.0 113.0 C322.8 114.2 321.5 116.5 320.0 117.0 C318.5 117.5 317.7 116.1 314.0 116.0 C310.3 115.9 300.4 116.1 297.7 116.2" fill="none" stroke="#1a1a1a" stroke-width="0.8" stroke-linejoin="round" stroke-linecap="round"/>
<path d="M316.1 153.3 C315.7 153.0 314.4 152.2 313.7 151.5 C313.0 150.8 312.4 150.0 311.9 149.2 C311.4 148.4 311.2 147.7 310.7 146.8 C310.2 145.9 309.7 144.6 309.0 143.8 C308.3 143.0 307.2 142.7 306.6 142.0 C306.0 141.3 305.7 140.8 305.4 139.6 C305.1 138.4 305.4 136.9 305.0 135.0 C304.6 133.1 303.7 130.5 303.0 128.0 C302.3 125.5 302.5 122.3 301.0 120.0 C299.5 117.7 295.2 115.1 294.1 114.1" fill="none" stroke="#1a1a1a" stroke-width="0.8" stroke-linejoin="round" stroke-linecap="round"/>
<path d="M322.1 132.4 C321.7 132.9 320.4 134.3 319.7 135.4 C319.0 136.5 318.6 138.1 317.9 139.0 C317.2 139.9 316.2 140.1 315.5 140.8 C314.8 141.5 314.4 142.7 313.7 143.2 C312.9 143.7 311.9 144.9 311.0 144.0 C310.1 143.1 308.8 140.3 308.0 138.0 C307.2 135.7 306.8 133.0 306.0 130.0 C305.2 127.0 303.3 122.6 303.0 120.0 C302.7 117.4 304.2 115.2 304.4 114.2" fill="none" stroke="#1a1a1a" stroke-width="0.8" stroke-linejoin="round" stroke-linecap="round"/>
<path d="M313.1 128.9 C312.9 129.7 312.5 132.2 311.9 133.6 C311.3 135.0 310.3 136.0 309.5 137.2 C308.7 138.4 308.0 139.6 307.2 140.8 C306.4 142.0 305.7 144.2 304.8 144.4 C303.9 144.6 302.6 142.6 302.0 142.0 C301.4 141.4 301.1 141.6 301.2 140.8 C301.3 140.0 302.6 138.6 302.4 137.2 C302.2 135.8 300.6 134.4 300.0 132.4 C299.4 130.4 298.9 128.6 299.0 125.0 C299.1 121.4 300.4 113.1 300.7 110.7" fill="none" stroke="#1a1a1a" stroke-width="0.8" stroke-linejoin="round" stroke-linecap="round"/>
<path d="M252.4 127.1 C252.4 126.2 252.2 122.8 252.4 121.7 C252.6 120.6 252.9 120.4 253.6 120.5 C254.3 120.6 255.6 122.1 256.6 122.3 C257.6 122.5 258.6 121.6 259.5 121.7 C260.4 121.8 261.3 122.4 261.9 122.9 C262.5 123.4 262.5 124.3 263.1 124.7 C263.7 125.1 264.6 124.8 265.5 125.3 C266.4 125.8 267.9 127.6 268.5 127.7 C269.1 127.8 269.2 126.7 269.1 125.9 C269.0 125.1 267.7 123.8 267.9 122.9 C268.1 122.0 269.4 121.2 270.3 120.5 C271.2 119.8 272.3 119.3 273.3 118.7 C274.3 118.1 275.3 117.5 276.3 116.9 C277.3 116.3 277.8 115.7 279.2 115.1 C280.6 114.5 282.9 114.0 285.0 113.5 C287.1 113.0 290.0 111.9 292.0 112.0 C294.0 112.1 296.1 113.6 297.0 113.9" fill="none" stroke="#1a1a1a" stroke-width="0.8" stroke-linejoin="round" stroke-linecap="round"/>
<path d="M273.9 130.7 C274.1 130.2 275.1 128.6 275.1 127.7 C275.1 126.8 274.3 126.1 273.9 125.3 C273.5 124.5 272.5 123.6 272.7 122.9 C272.9 122.2 273.9 121.7 275.0 121.0 C276.1 120.3 277.3 119.8 279.0 119.0 C280.7 118.2 282.8 117.0 285.0 116.0 C287.2 115.0 289.0 114.8 292.0 113.0 C295.0 111.2 301.1 106.6 303.0 105.4" fill="none" stroke="#1a1a1a" stroke-width="0.8" stroke-linejoin="round" stroke-linecap="round"/>
<path d="M282.8 153.9 C283.1 153.7 284.1 153.3 284.6 152.7 C285.1 152.1 285.7 151.3 285.8 150.3 C285.9 149.3 285.2 148.0 285.2 146.8 C285.2 145.6 285.5 144.2 285.8 143.2 C286.1 142.2 286.8 141.8 287.0 140.8 C287.2 139.8 287.2 138.3 287.0 137.2 C286.8 136.1 286.3 135.1 285.8 134.2 C285.3 133.3 284.6 132.7 284.0 131.8 C283.4 130.9 282.4 130.0 282.2 128.9 C282.0 127.8 282.4 126.5 282.8 125.3 C283.2 124.1 283.7 122.9 284.6 121.7 C285.5 120.5 286.6 119.3 288.0 118.0 C289.4 116.7 291.0 116.0 293.0 114.0 C295.0 112.0 298.6 107.5 299.7 106.2" fill="none" stroke="#1a1a1a" stroke-width="0.8" stroke-linejoin="round" stroke-linecap="round"/>
<path d="M288.2 140.8 C288.3 141.2 288.9 142.6 288.8 143.2 C288.7 143.8 287.7 144.3 287.5 144.5" fill="none" stroke="#1a1a1a" stroke-width="0.8" stroke-linejoin="round" stroke-linecap="round"/>
<path d="M295.3 138.4 C295.9 137.8 297.7 136.0 298.9 134.8 C300.1 133.6 302.3 132.4 302.5 131.3 C302.7 130.2 301.1 128.7 300.0 128.0 C298.9 127.3 297.2 126.8 296.0 127.0 C294.8 127.2 293.3 127.8 293.0 128.9 C292.7 130.0 293.8 132.0 294.2 133.6 C294.6 135.2 294.1 137.0 295.3 138.4 C296.5 139.8 299.9 140.9 301.3 142.0 C302.8 143.1 303.6 144.5 304.0 145.0" fill="none" stroke="#1a1a1a" stroke-width="0.8" stroke-linejoin="round" stroke-linecap="round"/>
<path d="M299.6 110.5 C300.0 110.3 301.5 109.5 301.8 109.5 C302.1 109.5 301.6 110.5 301.4 110.7 C301.2 110.8 300.8 110.8 300.4 110.4 C300.0 110.0 299.2 108.5 299.1 108.2 C299.0 107.9 299.8 108.9 300.0 108.5 C300.3 108.2 300.3 106.9 300.4 106.3 C300.5 105.7 301.0 105.4 300.7 105.0 C300.4 104.7 299.1 104.3 298.5 104.1 C298.0 103.8 297.5 103.8 297.3 103.4 C297.1 103.1 297.5 102.6 297.4 102.1 C297.2 101.5 297.0 100.6 296.6 100.1 C296.2 99.6 295.3 99.4 294.8 99.2 C294.3 98.9 294.1 99.1 293.8 98.7 C293.4 98.3 292.9 96.7 292.6 96.7 C292.3 96.7 291.9 98.1 291.9 98.6 C292.0 99.2 292.9 99.4 292.8 100.0 C292.8 100.5 291.7 101.8 291.5 102.0 C291.3 102.1 291.4 101.1 291.6 100.9 C291.9 100.8 292.4 101.2 292.9 101.2 C293.4 101.2 294.7 101.1 294.7 101.1 C294.8 101.1 293.6 101.3 293.1 101.1 C292.7 100.9 292.4 100.0 291.9 99.8 C291.4 99.5 290.7 99.7 290.1 99.6 C289.5 99.5 288.3 99.1 288.1 99.3 C287.9 99.4 288.6 100.0 289.2 100.4 C289.7 100.7 290.8 100.8 291.3 101.3 C291.8 101.8 291.9 102.6 292.1 103.2 C292.4 103.8 292.4 104.4 292.9 104.7 C293.3 105.1 294.4 105.3 295.0 105.2 C295.7 105.2 296.3 104.6 296.6 104.4" fill="none" stroke="#1a1a1a" stroke-width="0.8" stroke-linejoin="round" stroke-linecap="round"/>
<path d="M299.1 109.8 C299.1 109.4 299.5 107.8 299.1 107.5 C298.6 107.2 296.9 107.7 296.6 108.1 C296.3 108.5 296.9 109.8 297.2 110.2 C297.5 110.6 298.0 110.6 298.5 110.4 C299.1 110.2 299.9 109.5 300.5 108.9 C301.2 108.3 302.1 107.2 302.2 106.9 C302.3 106.6 301.4 107.0 301.0 107.2 C300.7 107.5 300.3 107.8 300.2 108.1 C300.0 108.5 300.1 109.0 300.2 109.4 C300.4 109.8 300.9 110.3 300.9 110.7 C300.9 111.0 300.7 111.5 300.1 111.5 C299.6 111.6 298.4 111.1 297.8 111.1 C297.1 111.2 296.2 111.9 296.2 111.9 C296.2 111.8 297.1 111.1 297.5 110.8 C298.0 110.6 298.4 110.2 298.8 110.3 C299.1 110.3 299.2 110.7 299.5 111.0 C299.8 111.3 300.2 111.6 300.6 111.9 C301.0 112.2 301.2 112.4 301.7 112.7 C302.2 113.0 303.1 113.7 303.8 113.8 C304.5 114.0 305.6 114.0 305.8 113.6 C306.0 113.2 305.4 111.9 304.8 111.5 C304.2 111.1 302.8 111.4 302.4 111.4" fill="none" stroke="#1a1a1a" stroke-width="0.8" stroke-linejoin="round" stroke-linecap="round"/>
<path d="M297.6 110.1 C297.8 110.3 298.1 110.9 298.5 111.3 C298.9 111.6 299.4 111.9 300.0 112.0 C300.7 112.1 301.7 112.0 302.3 111.9 C302.9 111.7 303.5 111.4 303.5 111.1 C303.4 110.9 302.3 110.1 302.1 110.3 C301.8 110.4 302.1 111.4 301.9 111.9 C301.6 112.5 301.1 113.2 300.6 113.5 C300.0 113.8 299.2 113.4 298.5 113.6 C297.8 113.7 296.7 113.9 296.5 114.5 C296.2 115.1 297.0 116.5 296.9 117.0 C296.9 117.5 296.2 117.1 296.1 117.6 C295.9 118.1 295.9 119.1 295.9 119.9 C295.9 120.7 296.0 121.7 296.3 122.3 C296.6 123.0 297.2 123.2 297.7 123.6 C298.2 124.0 298.6 124.5 299.2 124.7 C299.8 125.0 300.8 125.6 301.2 125.3 C301.5 125.0 301.7 123.4 301.4 123.0 C301.0 122.5 299.5 122.7 298.9 122.6 C298.2 122.6 298.0 122.5 297.5 122.7 C297.0 123.0 296.0 123.7 295.8 124.1 C295.6 124.5 296.4 124.9 296.4 125.2 C296.3 125.5 295.6 125.8 295.5 125.9" fill="none" stroke="#1a1a1a" stroke-width="0.8" stroke-linejoin="round" stroke-linecap="round"/>
<path d="M299.4 110.6 C299.6 110.9 300.5 112.3 301.0 112.4 C301.5 112.5 302.4 111.5 302.5 111.2 C302.6 110.8 302.2 110.6 301.6 110.3 C301.1 110.1 299.6 110.1 299.2 109.6 C298.9 109.0 299.8 107.3 299.6 107.1 C299.5 106.8 298.7 107.9 298.3 108.2 C298.0 108.6 298.0 108.9 297.5 109.2 C297.0 109.5 295.9 109.8 295.4 110.0 C294.9 110.3 294.3 110.3 294.3 110.8 C294.4 111.2 295.2 112.6 295.5 112.7 C295.9 112.9 296.5 112.3 296.3 111.8 C296.2 111.4 295.1 110.1 294.9 110.1 C294.7 110.1 295.1 111.7 294.9 111.7 C294.7 111.7 294.2 110.6 293.7 110.0 C293.3 109.5 292.6 108.3 292.4 108.3 C292.2 108.2 292.6 109.1 292.5 109.6 C292.4 110.2 291.5 111.1 291.6 111.6 C291.8 112.0 293.5 112.0 293.6 112.3 C293.7 112.5 292.5 113.1 292.0 113.1 C291.5 113.1 290.7 112.2 290.6 112.4 C290.5 112.6 291.1 113.8 291.6 114.2 C292.1 114.6 293.2 114.5 293.5 114.8 C293.8 115.1 293.2 115.7 293.2 115.9" fill="none" stroke="#1a1a1a" stroke-width="0.8" stroke-linejoin="round" stroke-linecap="round"/>
<path d="M300.2 112.0 C300.1 111.8 299.3 111.4 299.3 110.8 C299.3 110.2 300.3 109.0 300.2 108.5 C300.1 107.9 299.2 107.7 298.6 107.4 C298.0 107.1 297.2 107.0 296.6 106.8 C296.1 106.6 295.7 106.5 295.3 106.1 C294.9 105.8 294.5 104.5 294.3 104.5 C294.1 104.4 294.0 105.5 294.3 105.8 C294.6 106.0 295.5 105.9 296.0 106.1 C296.5 106.2 297.0 106.8 297.5 106.7 C298.0 106.6 299.1 106.1 299.0 105.6 C299.0 105.2 297.6 104.0 297.2 103.9 C296.7 103.7 296.7 104.7 296.3 104.6 C295.9 104.5 295.4 103.3 295.0 103.1 C294.5 102.9 293.8 103.2 293.5 103.4 C293.2 103.7 293.4 103.9 293.2 104.5 C293.0 105.0 292.6 106.1 292.5 106.7 C292.3 107.3 292.3 107.5 292.5 107.9 C292.7 108.3 293.4 108.7 293.6 109.2 C293.7 109.7 293.1 110.7 293.4 111.1 C293.6 111.4 294.9 111.1 295.1 111.4 C295.3 111.6 294.4 112.2 294.4 112.6 C294.4 112.9 295.1 113.5 295.3 113.5 C295.5 113.4 295.9 112.6 295.8 112.3 C295.6 112.0 294.9 111.7 294.5 111.6 C294.0 111.4 293.2 111.3 293.0 111.6 C292.8 111.9 293.2 113.1 293.2 113.4" fill="none" stroke="#1a1a1a" stroke-width="0.8" stroke-linejoin="round" stroke-linecap="round"/>
<path d="M296.2 112.9 C296.3 112.7 297.0 112.4 296.8 112.0 C296.6 111.7 295.6 110.9 295.2 110.9 C294.7 110.9 294.0 112.2 294.1 112.0 C294.3 111.9 295.9 110.6 295.8 110.1 C295.8 109.6 294.3 109.1 293.8 108.8 C293.3 108.5 293.3 108.4 292.9 108.3 C292.4 108.2 291.4 107.9 291.3 108.2 C291.2 108.6 291.9 110.0 292.3 110.4 C292.8 110.7 293.8 110.0 294.2 110.4 C294.6 110.7 294.8 111.9 294.9 112.5 C295.0 113.1 295.1 113.9 294.7 114.2 C294.4 114.4 293.5 114.3 292.9 114.1 C292.2 113.8 291.6 112.8 291.0 112.7 C290.4 112.6 289.8 113.0 289.5 113.4 C289.3 113.8 289.6 114.5 289.7 115.2 C289.8 115.9 289.7 117.3 290.0 117.7 C290.3 118.2 291.4 117.9 291.5 117.7 C291.6 117.5 291.1 116.8 290.6 116.5 C290.1 116.2 288.8 116.3 288.7 115.9 C288.6 115.5 289.7 114.0 290.0 114.1 C290.3 114.2 290.5 115.8 290.4 116.5 C290.4 117.1 290.0 117.9 289.7 118.2 C289.4 118.5 289.1 118.2 288.7 118.1 C288.3 118.0 287.5 117.9 287.5 117.6 C287.5 117.2 288.7 116.6 288.8 116.0 C288.9 115.3 287.9 114.2 288.1 113.8 C288.3 113.4 289.6 113.9 290.1 113.6 C290.5 113.2 290.6 112.0 290.7 111.7" fill="none" stroke="#1a1a1a" stroke-width="0.8" stroke-linejoin="round" stroke-linecap="round"/>
<path d="M300.0 113.2 C299.8 113.2 299.1 113.2 298.8 113.4 C298.4 113.6 298.5 114.0 298.1 114.3 C297.7 114.5 296.3 115.0 296.2 115.0 C296.1 115.0 297.1 114.2 297.6 114.2 C298.1 114.3 298.9 115.4 299.1 115.4 C299.3 115.3 299.1 114.4 298.9 114.0 C298.7 113.5 297.9 113.2 297.9 112.8 C298.0 112.4 299.1 111.8 299.2 111.6 C299.2 111.4 298.0 111.3 298.1 111.4 C298.2 111.6 299.3 112.0 299.7 112.5 C300.0 113.1 300.1 114.1 300.2 114.7 C300.3 115.4 300.4 116.3 300.3 116.7 C300.1 117.0 299.6 116.6 299.3 116.9 C298.9 117.1 298.2 118.3 298.4 118.2 C298.5 118.1 300.1 116.8 300.1 116.4 C300.2 115.9 299.1 115.7 298.5 115.7 C297.9 115.6 296.9 116.0 296.5 116.1" fill="none" stroke="#1a1a1a" stroke-width="0.8" stroke-linejoin="round" stroke-linecap="round"/>
<path d="M299.9 112.7 C299.9 112.8 299.7 113.8 300.0 113.7 C300.4 113.6 301.5 112.1 301.8 112.1 C302.1 112.0 301.9 113.1 301.6 113.4 C301.4 113.7 300.6 113.9 300.2 113.7 C299.8 113.5 299.4 112.0 299.1 112.2 C298.9 112.3 299.0 114.1 298.7 114.6 C298.4 115.2 297.8 115.3 297.5 115.6 C297.1 115.9 296.3 116.2 296.5 116.4 C296.7 116.6 298.1 116.7 298.7 116.7 C299.4 116.6 300.1 115.8 300.4 116.0 C300.7 116.2 300.7 117.9 300.6 118.1 C300.5 118.3 300.1 117.2 299.9 117.2 C299.7 117.3 299.6 118.4 299.6 118.2 C299.5 118.0 299.4 116.6 299.7 116.1 C300.1 115.7 301.2 115.9 301.6 115.5 C302.0 115.1 301.6 114.1 302.1 113.6 C302.5 113.1 303.7 112.4 304.3 112.4 C304.9 112.3 305.2 113.4 305.6 113.2 C306.0 112.9 306.3 111.4 306.5 110.8 C306.6 110.2 307.0 109.8 306.6 109.5 C306.2 109.3 304.5 109.5 304.1 109.5" fill="none" stroke="#1a1a1a" stroke-width="0.8" stroke-linejoin="round" stroke-linecap="round"/>
<path d="M298.1 112.6 C297.8 112.8 296.8 113.6 296.1 113.7 C295.3 113.7 294.2 113.3 293.7 113.0 C293.1 112.8 292.8 112.1 292.5 112.1 C292.3 112.1 292.4 113.3 292.1 113.1 C291.9 113.0 291.4 111.6 291.0 111.1 C290.7 110.6 289.8 110.0 289.9 110.1 C290.0 110.1 291.6 111.5 291.8 111.4 C292.0 111.3 291.5 110.1 291.1 109.6 C290.6 109.0 289.3 108.6 289.1 108.2 C288.9 107.7 289.9 107.4 289.9 106.8 C289.9 106.2 289.7 104.6 289.2 104.4 C288.8 104.3 287.8 105.4 287.3 105.7 C286.8 106.0 286.6 106.2 286.1 106.5 C285.7 106.8 284.5 107.1 284.7 107.3 C284.8 107.6 286.6 108.0 287.0 108.0 C287.5 107.9 287.0 107.1 287.4 107.0 C287.9 106.9 289.6 107.7 289.8 107.5 C290.0 107.3 288.9 106.2 288.7 105.9" fill="none" stroke="#1a1a1a" stroke-width="0.8" stroke-linejoin="round" stroke-linecap="round"/>
<path d="M302.1 110.6 C301.9 110.4 301.0 109.4 300.6 109.5 C300.2 109.6 299.6 110.8 299.8 111.2 C300.0 111.7 301.2 112.0 301.8 112.4 C302.4 112.8 303.3 113.3 303.5 113.7 C303.7 114.1 303.2 114.3 303.0 114.7 C302.9 115.2 302.5 115.8 302.7 116.3 C302.8 116.9 303.7 117.7 303.8 117.9 C303.9 118.0 303.5 117.1 303.1 117.2 C302.7 117.3 302.1 118.3 301.6 118.3 C301.1 118.3 300.4 117.8 300.3 117.4 C300.2 117.0 300.7 116.1 301.0 115.7 C301.4 115.3 301.7 115.1 302.2 115.0 C302.7 114.9 303.6 115.3 304.0 115.1 C304.5 115.0 304.4 114.5 304.7 114.0 C305.1 113.5 305.7 112.6 306.1 112.2 C306.6 111.9 307.3 112.3 307.6 111.8 C307.8 111.4 307.9 110.3 307.7 109.6 C307.5 108.9 306.7 108.2 306.4 107.6 C306.0 107.1 305.5 106.0 305.5 106.1 C305.4 106.2 305.8 108.0 306.1 108.4 C306.4 108.8 307.0 108.3 307.2 108.5 C307.5 108.8 307.8 109.6 307.6 110.0 C307.3 110.4 306.2 110.9 305.9 111.1" fill="none" stroke="#1a1a1a" stroke-width="0.8" stroke-linejoin="round" stroke-linecap="round"/>
<path d="M299.7 115.5 C300.0 115.5 301.0 115.9 301.5 115.7 C302.0 115.4 302.5 114.4 302.8 113.9 C303.1 113.3 302.8 112.1 303.0 112.2 C303.3 112.2 303.7 113.7 304.3 114.1 C304.9 114.5 306.2 114.4 306.8 114.5 C307.5 114.6 307.7 114.5 308.1 114.7 C308.5 114.8 308.9 115.0 309.2 115.3 C309.6 115.7 310.0 116.3 310.3 116.9 C310.6 117.5 311.3 119.1 311.1 119.1 C311.0 119.2 309.7 117.8 309.5 117.3 C309.3 116.8 309.9 116.5 309.7 116.2 C309.6 115.9 309.3 115.6 308.7 115.6 C308.2 115.6 307.0 116.1 306.3 116.4 C305.6 116.7 304.8 117.5 304.5 117.2 C304.1 116.9 304.6 115.3 304.3 114.7 C304.1 114.0 303.5 113.5 303.1 113.4 C302.8 113.3 302.1 113.8 302.1 114.1 C302.0 114.3 302.8 114.9 302.9 115.1" fill="none" stroke="#1a1a1a" stroke-width="0.8" stroke-linejoin="round" stroke-linecap="round"/>
<path d="M298.5 114.3 C298.7 114.1 299.7 112.9 299.7 112.9 C299.7 112.8 299.1 113.6 298.6 113.8 C298.1 114.0 297.4 113.9 296.8 114.1 C296.2 114.2 295.2 114.5 295.1 114.6 C295.0 114.8 295.9 114.9 296.3 115.0 C296.7 115.1 297.0 115.1 297.5 115.2 C298.1 115.4 299.1 116.2 299.6 116.0 C300.1 115.9 300.6 114.9 300.7 114.3 C300.8 113.8 300.5 113.0 300.2 112.6 C299.8 112.3 299.0 112.6 298.6 112.3 C298.3 111.9 298.4 110.6 298.2 110.7 C298.0 110.8 297.9 112.5 297.4 113.0 C296.9 113.5 295.1 113.6 295.0 113.6 C295.0 113.5 296.6 112.9 297.2 112.8 C297.7 112.8 297.9 113.0 298.4 113.2 C298.8 113.5 299.7 114.2 300.0 114.4" fill="none" stroke="#1a1a1a" stroke-width="0.8" stroke-linejoin="round" stroke-linecap="round"/>
<path d="M299.0 111.6 C298.9 111.8 298.3 112.7 298.2 112.5 C298.2 112.3 298.8 111.0 298.6 110.5 C298.4 110.1 297.4 109.6 297.0 109.7 C296.6 109.8 296.3 111.3 296.1 111.2 C295.9 111.1 295.7 109.7 295.7 109.2 C295.7 108.8 295.7 108.5 296.1 108.3 C296.6 108.0 297.7 108.1 298.2 107.6 C298.7 107.2 299.1 106.1 299.3 105.5 C299.5 104.9 299.7 104.6 299.6 104.1 C299.5 103.7 299.0 103.5 298.9 102.9 C298.7 102.3 298.9 101.2 298.7 100.6 C298.5 99.9 297.9 99.5 297.8 99.0 C297.7 98.5 297.8 98.1 298.2 97.6 C298.6 97.0 299.7 96.3 300.1 95.9 C300.5 95.4 300.3 94.9 300.6 94.9 C300.8 94.9 301.3 95.7 301.7 95.7 C302.1 95.6 302.6 94.9 303.0 94.5 C303.3 94.1 303.3 93.5 303.7 93.4 C304.1 93.2 304.7 93.9 305.2 93.6 C305.8 93.3 306.5 92.2 306.9 91.7 C307.2 91.2 307.3 91.0 307.3 90.6 C307.3 90.3 306.9 89.5 306.9 89.6 C307.0 89.8 307.5 91.3 307.8 91.6 C308.1 91.9 308.9 91.9 308.8 91.6 C308.8 91.3 307.8 90.2 307.4 89.8 C307.0 89.5 306.7 89.5 306.5 89.4" fill="none" stroke="#1a1a1a" stroke-width="0.8" stroke-linejoin="round" stroke-linecap="round"/>
<path d="M300.2 111.6 C300.3 111.8 300.7 112.5 301.0 112.7 C301.4 112.9 301.7 113.0 302.3 112.9 C302.9 112.9 303.9 112.7 304.5 112.6 C305.0 112.4 305.3 112.4 305.5 112.1 C305.7 111.9 305.9 111.3 305.7 111.0 C305.6 110.7 304.8 110.4 304.4 110.4 C304.0 110.5 303.3 110.9 303.4 111.3 C303.5 111.7 304.7 112.7 305.2 112.7 C305.7 112.7 306.0 111.7 306.5 111.2 C306.9 110.7 307.6 110.1 308.1 109.8 C308.7 109.5 309.1 109.6 309.7 109.5 C310.4 109.3 311.4 109.2 312.0 108.9 C312.5 108.6 312.7 107.8 313.1 107.8 C313.4 107.9 314.0 109.1 314.2 109.2 C314.4 109.2 313.8 108.4 314.1 108.2 C314.5 107.9 316.0 108.0 316.5 107.7 C317.0 107.4 316.7 106.6 317.1 106.4 C317.5 106.2 318.6 106.3 318.7 106.4 C318.8 106.5 317.7 106.8 317.6 107.0 C317.5 107.3 318.2 107.7 318.0 108.0 C317.8 108.3 316.5 108.5 316.3 108.8 C316.2 109.1 316.9 109.3 317.0 109.8 C317.1 110.3 317.3 111.5 317.0 111.9 C316.8 112.4 315.8 112.4 315.6 112.5" fill="none" stroke="#1a1a1a" stroke-width="0.8" stroke-linejoin="round" stroke-linecap="round"/>
<path d="M295.8 112.8 C295.7 112.5 295.0 111.4 295.2 111.0 C295.5 110.6 296.9 110.3 297.4 110.4 C297.9 110.5 297.9 111.1 298.0 111.6 C298.2 112.1 298.2 112.9 298.5 113.3 C298.8 113.8 299.2 114.0 299.7 114.2 C300.2 114.4 301.0 114.5 301.7 114.3 C302.3 114.2 303.0 113.5 303.8 113.2 C304.7 112.9 306.0 112.8 307.0 112.5 C308.0 112.2 308.9 112.0 309.7 111.7 C310.5 111.3 311.8 110.3 312.0 110.5 C312.3 110.6 311.4 111.9 311.1 112.5 C310.8 113.2 310.5 114.1 310.1 114.3 C309.7 114.5 309.2 114.1 308.7 113.8 C308.2 113.4 307.3 112.8 307.1 112.1 C306.9 111.4 307.4 110.3 307.6 109.6 C307.7 109.0 308.1 108.9 307.9 108.1 C307.8 107.4 307.2 105.8 306.7 105.2 C306.2 104.7 305.7 104.9 305.0 104.8 C304.2 104.7 302.9 104.2 302.3 104.7 C301.7 105.2 301.5 107.1 301.2 107.8 C300.9 108.5 300.3 108.4 300.4 108.9 C300.6 109.4 301.4 110.8 302.1 110.8 C302.7 110.9 304.0 109.5 304.1 109.4 C304.3 109.2 303.4 109.9 302.8 109.9 C302.3 109.9 301.2 108.8 300.9 109.1 C300.6 109.5 301.6 111.4 301.1 111.9 C300.6 112.5 298.3 112.6 298.1 112.5 C297.9 112.4 299.7 112.0 299.8 111.5 C299.9 111.0 299.3 109.9 298.9 109.6 C298.5 109.2 298.0 109.3 297.3 109.5 C296.6 109.7 295.0 109.9 294.7 110.5 C294.5 111.1 295.8 112.6 295.8 113.0 C295.8 113.4 294.9 113.1 294.5 112.8 C294.0 112.6 293.4 111.9 293.1 111.4 C292.8 110.9 292.9 110.3 292.6 109.8 C292.3 109.2 291.8 108.4 291.2 108.2 C290.6 107.9 289.4 108.3 289.0 108.1 C288.7 107.8 289.0 107.5 288.9 106.7 C288.8 105.9 288.4 104.4 288.5 103.4 C288.5 102.3 289.0 101.3 289.2 100.4 C289.4 99.4 289.2 98.2 289.7 97.8 C290.2 97.5 291.4 98.5 292.2 98.3 C293.0 98.1 293.8 96.7 294.5 96.4 C295.1 96.0 295.5 96.2 296.0 96.2 C296.5 96.1 296.9 96.2 297.4 96.2 C297.8 96.2 298.3 96.1 298.9 96.2 C299.4 96.4 300.0 96.6 300.7 97.0 C301.5 97.5 302.7 98.2 303.4 99.0 C304.1 99.8 304.7 100.9 305.0 101.8 C305.4 102.6 305.0 103.4 305.3 104.3 C305.5 105.2 305.9 106.9 306.6 107.2 C307.3 107.6 309.1 106.5 309.6 106.3" fill="none" stroke="#1a1a1a" stroke-width="0.8" stroke-linejoin="round" stroke-linecap="round"/>
<path d="M300.4 109.6 C300.1 109.2 299.5 107.9 298.8 107.2 C298.2 106.5 296.9 106.0 296.7 105.5 C296.5 105.0 297.6 104.5 297.5 103.9 C297.4 103.4 296.2 103.2 296.1 102.4 C296.0 101.7 297.0 100.4 297.1 99.4 C297.1 98.5 296.4 97.1 296.6 96.5 C296.7 95.9 297.3 96.4 297.8 96.0 C298.3 95.7 298.7 94.6 299.6 94.3 C300.4 94.0 302.5 94.4 302.9 94.2 C303.3 94.0 301.5 93.6 301.7 93.1 C302.0 92.6 303.8 91.8 304.4 91.2 C305.0 90.6 304.6 89.9 305.2 89.5 C305.9 89.2 307.6 89.3 308.3 89.3 C309.1 89.2 309.1 89.1 309.7 89.3 C310.3 89.5 311.1 90.4 311.9 90.3 C312.6 90.3 313.7 89.6 314.2 89.0 C314.7 88.4 314.5 87.4 315.0 86.8 C315.5 86.1 317.0 85.8 317.3 85.1 C317.7 84.4 316.6 83.0 317.0 82.7 C317.5 82.5 319.3 83.4 320.2 83.6 C321.0 83.8 321.7 83.9 322.3 83.9 C323.0 83.9 323.4 83.9 324.0 83.5 C324.6 83.1 325.4 82.2 325.7 81.6 C326.1 81.1 325.9 79.9 326.2 80.2 C326.5 80.4 327.0 82.9 327.3 83.1 C327.6 83.2 328.2 81.5 327.8 81.3 C327.5 81.0 325.7 81.3 325.2 81.7 C324.8 82.2 324.9 83.5 325.2 83.9 C325.4 84.3 326.4 84.3 326.7 84.0 C327.0 83.8 326.7 82.9 327.1 82.5 C327.5 82.2 328.3 81.7 329.1 81.7 C329.9 81.7 331.2 82.4 332.0 82.7 C332.8 82.9 333.0 83.2 333.8 83.2 C334.6 83.2 335.9 83.1 336.8 82.7 C337.7 82.4 338.5 81.7 339.1 81.2 C339.7 80.7 339.8 79.7 340.4 79.6 C340.9 79.5 342.2 80.4 342.6 80.3 C343.1 80.2 343.3 79.6 343.0 79.0 C342.8 78.5 341.3 77.6 341.1 76.9 C340.9 76.3 341.7 75.9 342.1 75.3 C342.4 74.6 342.6 73.7 343.1 73.1 C343.5 72.5 344.6 72.3 344.7 71.8 C344.9 71.3 344.1 70.4 344.0 70.2" fill="none" stroke="#1a1a1a" stroke-width="0.8" stroke-linejoin="round" stroke-linecap="round"/>
<path d="M297.8 114.4 C298.1 114.4 299.1 114.3 299.9 114.1 C300.8 113.8 302.0 113.1 302.9 112.9 C303.8 112.7 304.6 112.9 305.4 112.9 C306.2 112.9 307.5 112.6 307.7 113.0 C307.9 113.4 306.5 114.4 306.7 115.2 C306.8 116.0 308.0 117.7 308.7 117.9 C309.4 118.1 310.3 116.8 310.9 116.3 C311.5 115.8 312.2 115.3 312.4 114.8 C312.5 114.2 311.4 113.4 311.7 112.8 C312.1 112.2 314.0 111.7 314.5 111.2 C315.1 110.7 315.2 110.1 315.0 109.7 C314.8 109.3 313.7 108.6 313.2 108.8 C312.6 108.9 312.4 110.4 311.6 110.7 C310.8 111.0 309.0 110.8 308.5 110.4 C307.9 110.0 308.6 109.0 308.4 108.2 C308.3 107.4 307.4 106.4 307.6 105.7 C307.7 105.1 308.7 104.7 309.4 104.1 C310.0 103.5 310.7 102.6 311.6 102.1 C312.5 101.6 313.9 101.2 314.8 101.4 C315.7 101.7 316.1 103.1 316.9 103.6 C317.8 104.0 319.1 104.0 320.1 104.1 C321.0 104.2 322.5 103.8 322.8 104.4 C323.1 105.0 322.2 107.3 322.0 107.5 C321.8 107.6 321.5 106.0 321.6 105.3 C321.7 104.6 322.0 103.6 322.6 103.2 C323.1 102.7 324.0 102.6 324.8 102.5 C325.6 102.4 326.7 102.3 327.4 102.6 C328.2 103.0 329.0 104.6 329.2 104.5 C329.4 104.4 328.9 102.1 328.9 101.9 C328.8 101.7 328.5 103.1 328.8 103.3 C329.1 103.4 330.1 102.4 330.7 102.6 C331.2 102.9 332.3 103.9 332.4 104.7 C332.5 105.5 331.6 106.7 331.2 107.5 C330.8 108.4 330.3 109.0 330.1 109.8 C329.9 110.6 329.8 111.5 330.1 112.1 C330.4 112.8 331.1 113.4 331.7 114.0 C332.3 114.5 333.8 114.8 333.7 115.4 C333.5 116.0 331.3 116.8 330.9 117.4 C330.5 118.0 331.0 118.5 331.3 118.9 C331.6 119.3 332.3 119.8 332.5 120.0" fill="none" stroke="#1a1a1a" stroke-width="0.8" stroke-linejoin="round" stroke-linecap="round"/>
<path d="M299.0 111.0 C298.9 111.3 298.3 112.4 298.3 113.1 C298.2 113.8 298.7 114.5 298.6 115.3 C298.5 116.1 297.2 117.3 297.4 117.8 C297.7 118.3 299.3 118.0 299.9 118.3 C300.5 118.6 301.0 119.2 301.2 119.6 C301.4 120.1 300.7 120.9 301.2 121.0 C301.7 121.1 304.0 120.6 304.4 120.3 C304.8 120.0 303.8 119.5 303.7 119.1 C303.6 118.6 303.6 117.9 303.9 117.7 C304.2 117.6 305.3 118.4 305.6 118.2 C305.9 118.1 305.4 117.1 305.7 116.8 C306.0 116.6 306.6 116.7 307.1 116.6 C307.6 116.6 308.2 116.2 308.7 116.5 C309.3 116.8 309.8 117.7 310.4 118.4 C311.0 119.1 311.8 120.1 312.3 120.9 C312.8 121.6 312.7 122.4 313.4 122.8 C314.1 123.2 315.5 122.9 316.5 123.4 C317.5 123.8 319.0 124.8 319.1 125.5 C319.2 126.1 317.8 126.9 317.0 127.2 C316.3 127.4 315.2 126.6 314.5 126.9 C313.9 127.2 313.5 128.8 313.1 129.2 C312.6 129.7 312.3 129.6 311.8 129.7 C311.3 129.7 310.7 129.5 310.1 129.6 C309.5 129.7 308.3 130.5 308.2 130.4 C308.1 130.2 309.1 129.3 309.6 128.8 C310.1 128.3 311.1 128.0 311.2 127.5 C311.3 127.0 310.0 125.9 310.3 125.7 C310.6 125.5 312.5 125.7 312.9 126.3 C313.3 127.0 312.8 128.6 313.0 129.5 C313.1 130.4 313.3 131.4 313.8 131.8 C314.3 132.3 315.3 131.7 315.8 132.1 C316.3 132.4 316.4 133.3 316.8 134.0 C317.3 134.7 318.1 135.8 318.4 136.5 C318.8 137.2 318.9 137.6 318.9 138.3 C318.8 138.9 318.6 139.9 318.1 140.6 C317.6 141.2 315.9 141.6 315.7 142.3 C315.5 143.0 316.5 144.4 317.0 145.0 C317.4 145.6 317.8 145.9 318.4 146.1 C319.0 146.3 319.8 145.9 320.5 146.2 C321.2 146.5 321.8 147.7 322.5 147.9 C323.2 148.0 324.2 147.6 324.7 147.3 C325.3 147.0 325.3 146.1 326.0 146.1 C326.7 146.1 328.1 147.8 328.9 147.5 C329.7 147.3 330.6 145.5 330.5 144.6 C330.5 143.6 329.2 142.4 328.5 141.9 C327.8 141.4 326.6 141.4 326.1 141.6 C325.6 141.8 326.0 142.6 325.5 143.0 C324.9 143.4 323.6 143.4 322.7 143.8 C321.8 144.1 320.7 144.6 320.1 145.3 C319.4 145.9 319.1 146.9 318.6 147.7 C318.1 148.5 317.4 149.4 317.1 150.1 C316.8 150.7 317.1 151.7 316.7 151.6 C316.3 151.6 315.3 150.5 314.6 149.8 C314.0 149.1 313.2 147.9 312.9 147.5" fill="none" stroke="#1a1a1a" stroke-width="0.8" stroke-linejoin="round" stroke-linecap="round"/>
<path d="M298.2 113.7 C298.6 113.5 299.8 113.1 300.3 112.6 C300.9 112.2 301.0 111.3 301.5 111.1 C302.0 110.9 302.7 111.1 303.2 111.3 C303.8 111.5 304.0 111.9 304.6 112.1 C305.1 112.4 305.9 113.0 306.6 112.8 C307.3 112.6 308.1 111.3 309.0 110.8 C309.9 110.3 311.8 110.1 312.0 109.9 C312.2 109.7 311.2 109.7 310.5 109.6 C309.8 109.5 308.6 109.5 307.8 109.2 C306.9 108.9 306.2 108.0 305.4 108.0 C304.6 107.9 303.6 109.0 302.9 108.9 C302.1 108.7 301.4 107.5 300.8 107.0 C300.3 106.4 299.2 105.7 299.4 105.6 C299.6 105.4 301.1 105.7 302.0 105.9 C302.9 106.2 304.2 106.6 304.9 107.2 C305.6 107.9 306.0 109.0 306.4 109.6 C306.8 110.2 306.9 110.4 307.3 110.7 C307.6 111.0 308.2 111.2 308.7 111.6 C309.1 112.0 309.8 112.7 310.0 113.2 C310.1 113.7 309.4 114.0 309.4 114.5 C309.4 115.0 310.4 115.7 310.0 116.1 C309.5 116.4 307.3 116.2 307.0 116.6 C306.6 116.9 307.3 117.9 307.8 118.2 C308.3 118.6 309.3 118.7 309.9 118.7 C310.5 118.8 310.9 119.0 311.2 118.4 C311.5 117.9 311.6 116.1 311.8 115.4 C312.0 114.7 312.6 114.8 312.3 114.2 C312.1 113.5 311.0 112.3 310.5 111.7 C309.9 111.2 309.4 111.0 309.0 110.7 C308.5 110.5 308.2 110.6 307.5 110.2 C306.8 109.8 305.7 108.6 304.8 108.5 C303.9 108.3 302.6 109.5 302.1 109.3 C301.6 109.1 301.4 107.9 301.8 107.2 C302.1 106.6 303.4 105.7 304.0 105.4 C304.6 105.1 305.0 105.7 305.4 105.1 C305.9 104.6 307.0 102.4 306.9 102.2 C306.7 102.0 305.0 103.5 304.7 103.8" fill="none" stroke="#1a1a1a" stroke-width="0.8" stroke-linejoin="round" stroke-linecap="round"/>
<path d="M301.6 109.6 C301.6 110.0 301.4 111.1 301.5 111.9 C301.6 112.7 301.7 113.8 302.4 114.5 C303.0 115.1 304.4 115.4 305.1 115.8 C305.8 116.2 305.8 117.1 306.4 116.9 C307.0 116.7 308.1 115.0 308.7 114.6 C309.4 114.2 310.1 114.9 310.4 114.6 C310.7 114.3 310.4 113.5 310.5 113.0 C310.6 112.4 311.3 111.9 311.0 111.2 C310.7 110.5 309.3 109.3 308.9 108.6 C308.6 107.9 308.5 107.6 308.8 107.1 C309.2 106.6 310.3 105.6 311.0 105.6 C311.6 105.6 312.7 106.5 312.8 107.1 C312.9 107.6 311.9 108.3 311.5 109.0 C311.0 109.7 310.3 110.6 310.0 111.3 C309.6 111.9 309.2 112.3 309.3 112.7 C309.4 113.1 310.0 113.9 310.5 113.7 C311.0 113.6 312.1 112.5 312.4 111.7 C312.6 110.9 312.3 109.8 312.2 109.1 C312.0 108.5 311.4 107.6 311.3 107.8 C311.3 108.0 312.0 109.9 311.8 110.5 C311.7 111.0 310.4 111.2 310.3 111.0 C310.2 110.8 311.2 109.8 311.4 109.2 C311.7 108.6 311.7 108.2 311.8 107.5 C311.9 106.8 312.1 105.8 312.1 105.2 C312.2 104.6 311.9 104.2 312.1 103.8 C312.2 103.4 313.0 103.3 313.2 102.8 C313.4 102.3 313.2 101.4 313.5 100.9 C313.8 100.3 314.7 100.1 315.3 99.5 C315.8 99.0 316.6 98.2 316.9 97.7 C317.3 97.1 316.9 96.4 317.4 96.3 C317.8 96.3 319.3 96.6 319.5 97.1 C319.7 97.7 318.9 99.1 318.7 99.9 C318.5 100.7 318.6 101.1 318.5 101.9 C318.5 102.6 318.0 103.8 318.5 104.5 C318.9 105.3 320.8 106.3 321.3 106.3 C321.7 106.3 321.0 105.0 321.0 104.3 C321.0 103.7 320.7 102.9 321.1 102.3 C321.4 101.7 322.3 101.1 323.2 100.8 C324.0 100.5 325.3 100.8 326.0 100.6 C326.6 100.4 327.3 100.2 327.1 99.7 C327.0 99.3 325.2 98.4 325.0 97.9 C324.7 97.3 325.3 97.0 325.6 96.4 C325.9 95.9 326.2 94.7 326.8 94.7 C327.4 94.8 328.5 96.1 329.4 96.5 C330.3 96.9 331.7 96.7 332.1 97.1 C332.4 97.5 332.0 98.6 331.5 98.9 C331.0 99.3 329.4 98.7 328.9 99.0 C328.4 99.4 328.9 100.7 328.5 101.0 C328.2 101.4 327.0 101.7 326.8 101.2 C326.6 100.7 327.2 98.5 327.5 98.2 C327.8 98.0 328.4 98.9 328.7 99.7 C328.9 100.4 329.0 101.6 329.0 102.6 C329.0 103.6 328.7 105.3 328.7 105.8" fill="none" stroke="#1a1a1a" stroke-width="0.8" stroke-linejoin="round" stroke-linecap="round"/>
<path d="M299.0 111.4 C299.5 111.1 301.1 109.8 301.9 109.7 C302.8 109.7 303.5 110.7 304.2 110.9 C304.9 111.1 305.4 111.0 306.0 110.9 C306.5 110.7 307.0 110.7 307.3 110.0 C307.6 109.4 308.2 107.6 307.9 106.8 C307.6 105.9 306.3 105.0 305.6 104.7 C304.9 104.4 304.1 104.9 303.6 105.0 C303.0 105.1 302.3 104.7 302.2 105.1 C302.1 105.4 302.7 107.0 303.1 107.3 C303.4 107.6 303.8 106.8 304.5 106.7 C305.3 106.6 306.3 106.6 307.3 106.8 C308.3 106.9 309.4 107.1 310.4 107.4 C311.4 107.8 312.7 108.3 313.5 108.7 C314.2 109.0 314.5 109.2 315.0 109.4 C315.4 109.5 315.8 110.0 316.2 109.7 C316.7 109.3 317.6 108.0 317.8 107.2 C318.0 106.4 317.8 105.2 317.4 104.9 C316.9 104.6 315.4 104.8 315.0 105.3 C314.5 105.7 314.8 106.8 314.8 107.7 C314.8 108.5 315.2 109.5 315.0 110.3 C314.7 111.0 313.9 112.0 313.4 112.3 C312.9 112.6 312.4 112.3 311.9 112.0 C311.5 111.7 311.2 110.3 310.8 110.4 C310.3 110.5 309.3 112.0 309.3 112.6 C309.3 113.2 309.9 113.8 310.6 114.2 C311.2 114.7 312.8 114.7 313.1 115.2 C313.3 115.7 312.4 117.3 311.9 117.3 C311.5 117.3 310.6 116.1 310.3 115.3 C309.9 114.4 310.3 113.2 309.9 112.4 C309.5 111.7 308.1 111.4 307.8 110.7 C307.5 110.0 307.5 108.7 308.1 108.3 C308.7 107.9 310.5 108.3 311.3 108.1 C312.2 107.8 312.5 106.9 313.1 106.7 C313.7 106.5 314.3 106.6 314.9 106.8 C315.5 106.9 316.5 107.9 316.4 107.7 C316.3 107.5 314.8 106.4 314.4 105.6 C313.9 104.9 313.4 103.4 313.5 103.1 C313.6 102.9 314.4 104.0 314.9 104.0 C315.4 104.0 316.5 103.6 316.5 103.2 C316.6 102.8 315.6 101.3 315.1 101.5 C314.7 101.6 313.9 103.0 313.7 103.9 C313.5 104.8 313.3 106.9 313.7 107.1 C314.0 107.3 315.4 106.1 315.7 105.3 C315.9 104.5 314.9 103.1 315.1 102.4 C315.3 101.6 316.1 100.8 316.8 100.8 C317.6 100.7 319.4 101.3 319.6 102.0 C319.8 102.6 318.1 103.9 317.9 104.7 C317.6 105.6 317.5 106.9 317.9 107.1 C318.3 107.4 319.3 106.3 320.2 106.2 C321.1 106.2 322.7 106.4 323.5 106.6 C324.2 106.8 324.6 107.1 324.7 107.5 C324.7 108.0 323.9 109.1 323.8 109.4" fill="none" stroke="#1a1a1a" stroke-width="0.8" stroke-linejoin="round" stroke-linecap="round"/>
<path d="M300.9 111.5 C300.7 111.3 300.2 110.6 299.8 110.1 C299.5 109.6 299.5 109.0 299.0 108.4 C298.4 107.8 297.4 106.4 296.6 106.3 C295.9 106.2 295.3 107.8 294.5 107.7 C293.7 107.6 292.7 105.9 291.8 105.9 C290.9 105.9 290.0 107.6 289.3 107.8 C288.5 107.9 287.4 107.4 287.5 106.9 C287.5 106.4 289.1 105.4 289.4 104.8 C289.6 104.2 289.2 103.2 288.9 103.3 C288.7 103.3 288.1 104.2 287.7 104.9 C287.3 105.6 286.7 107.3 286.6 107.5 C286.5 107.7 287.1 106.8 287.1 106.2 C287.2 105.6 287.2 104.6 286.9 103.8 C286.7 102.9 285.4 101.5 285.6 101.1 C285.9 100.8 288.0 101.4 288.3 101.7 C288.5 102.1 287.9 102.8 287.3 103.2 C286.6 103.7 285.3 104.8 284.6 104.7 C283.8 104.6 283.3 103.4 282.9 102.8 C282.5 102.3 282.4 102.2 282.1 101.5 C281.8 100.8 281.2 99.5 281.1 98.7 C281.0 98.0 281.1 97.1 281.6 96.9 C282.2 96.7 283.3 97.6 284.3 97.6 C285.2 97.5 286.4 96.7 287.3 96.7 C288.2 96.6 288.8 97.4 289.6 97.2 C290.5 96.9 292.0 95.5 292.2 95.1 C292.4 94.7 291.5 94.8 290.9 94.8 C290.3 94.8 289.4 95.3 288.6 95.1 C287.8 94.9 286.5 94.0 285.8 93.6 C285.2 93.2 285.2 92.9 284.5 92.7 C283.7 92.4 282.4 91.9 281.6 91.9 C280.7 91.8 279.8 92.1 279.4 92.5 C279.0 92.9 279.6 93.5 279.2 94.1 C278.8 94.8 277.2 95.5 276.9 96.2 C276.6 97.0 277.6 98.1 277.5 98.7 C277.4 99.3 276.9 99.6 276.2 99.9 C275.5 100.3 273.9 100.4 273.1 100.7 C272.4 101.0 272.2 101.2 271.8 101.6 C271.3 102.0 270.3 102.5 270.3 103.0 C270.3 103.5 271.5 103.8 271.9 104.4 C272.3 104.9 273.1 105.7 272.9 106.1 C272.8 106.5 271.6 106.7 271.1 106.9 C270.6 107.1 269.9 107.4 269.8 107.3 C269.8 107.2 270.3 106.4 270.7 106.2 C271.1 106.1 271.8 106.5 272.3 106.4 C272.9 106.3 273.6 106.1 274.0 105.6 C274.4 105.1 274.5 104.1 274.6 103.4 C274.8 102.6 274.3 101.3 274.9 101.0 C275.5 100.7 277.2 101.4 278.1 101.8 C279.0 102.1 279.8 102.9 280.2 103.1" fill="none" stroke="#1a1a1a" stroke-width="0.8" stroke-linejoin="round" stroke-linecap="round"/>
<path d="M299.5 112.1 C299.1 112.1 297.2 112.5 297.0 112.0 C296.7 111.6 297.5 109.7 297.9 109.2 C298.4 108.8 299.2 109.3 299.7 109.4 C300.2 109.5 300.4 110.0 301.1 109.9 C301.8 109.7 303.4 109.3 304.2 108.6 C304.9 108.0 305.1 106.4 305.7 106.0 C306.2 105.5 307.1 105.6 307.5 105.9 C307.8 106.2 307.3 107.6 307.8 107.9 C308.3 108.2 310.0 108.2 310.6 107.7 C311.1 107.2 311.5 105.2 311.3 104.9 C311.0 104.6 309.8 106.5 309.3 106.2 C308.8 105.8 308.8 103.4 308.4 102.9 C307.9 102.4 307.4 103.4 306.8 103.2 C306.1 103.0 304.6 101.9 304.5 101.7 C304.5 101.4 306.4 102.3 306.7 101.8 C307.0 101.3 305.9 99.3 306.2 98.6 C306.6 97.9 308.0 97.6 308.6 97.7 C309.2 97.8 309.8 98.7 309.7 99.2 C309.5 99.7 307.8 100.2 307.6 100.6 C307.4 101.0 308.6 101.6 308.7 101.5 C308.7 101.5 307.7 100.5 307.8 100.1 C307.9 99.7 309.1 99.5 309.4 99.0 C309.8 98.5 309.8 96.9 309.9 97.1 C310.0 97.2 310.2 99.0 309.9 99.8 C309.7 100.6 308.6 101.9 308.2 102.0 C307.8 102.0 308.0 100.4 307.7 100.1 C307.3 99.8 306.4 100.4 306.0 99.9 C305.7 99.4 306.0 97.7 305.6 97.1 C305.1 96.4 303.8 96.2 303.2 95.9 C302.6 95.6 302.5 95.7 302.0 95.3 C301.5 95.0 300.6 94.5 300.3 93.8 C300.0 93.2 300.5 92.1 300.3 91.5 C300.1 90.9 299.7 90.7 299.4 90.3 C299.0 89.9 298.6 89.5 298.4 89.1 C298.2 88.6 297.8 87.8 298.1 87.7 C298.5 87.6 300.0 88.0 300.4 88.6 C300.9 89.2 301.1 90.6 300.8 91.3 C300.6 92.1 299.3 92.6 298.8 93.0 C298.3 93.4 298.1 93.4 297.7 93.8 C297.3 94.2 297.0 94.7 296.3 95.2 C295.6 95.7 294.3 96.8 293.6 96.7 C292.9 96.6 292.6 95.4 292.2 94.6 C291.8 93.8 291.0 92.6 291.2 91.8 C291.4 91.0 293.0 89.9 293.4 89.8 C293.7 89.7 292.8 91.1 293.4 91.3 C293.9 91.5 296.1 91.3 296.7 90.9 C297.2 90.4 296.5 88.9 296.6 88.7 C296.8 88.5 297.0 89.6 297.5 89.8 C298.0 89.9 298.9 89.8 299.5 89.5 C300.0 89.3 300.8 88.8 301.1 88.1 C301.3 87.4 300.8 86.0 300.8 85.3 C300.8 84.6 301.2 84.5 301.1 84.0 C301.1 83.6 300.7 82.4 300.5 82.4 C300.3 82.5 300.0 84.0 299.9 84.4" fill="none" stroke="#1a1a1a" stroke-width="0.8" stroke-linejoin="round" stroke-linecap="round"/>
<path d="M298.8 108.8 C298.7 108.4 298.6 106.9 298.2 106.4 C297.7 105.9 296.8 105.5 296.3 105.8 C295.8 106.1 295.4 107.5 295.1 108.3 C294.7 109.2 294.6 111.0 294.1 111.1 C293.6 111.2 293.0 109.3 292.1 109.0 C291.2 108.6 289.2 109.3 288.8 109.0 C288.4 108.7 289.6 107.9 289.9 107.0 C290.2 106.2 290.2 104.3 290.6 103.9 C291.0 103.4 292.0 103.7 292.2 104.2 C292.4 104.7 292.0 105.9 291.8 106.8 C291.7 107.7 291.1 109.4 291.3 109.7 C291.4 110.0 292.6 108.3 292.5 108.4 C292.4 108.6 291.3 110.2 290.8 110.7 C290.3 111.3 290.0 111.4 289.6 111.7 C289.2 112.0 288.4 112.1 288.3 112.4 C288.3 112.8 288.8 113.1 289.2 113.8 C289.7 114.5 290.5 115.9 291.1 116.5 C291.7 117.1 292.1 116.7 292.6 117.2 C293.1 117.8 293.8 119.0 294.1 119.7 C294.3 120.3 293.8 120.3 293.9 121.0 C294.0 121.7 294.4 123.0 294.5 123.9 C294.7 124.7 294.5 126.2 294.7 126.2 C294.9 126.2 296.0 124.5 295.9 123.9 C295.8 123.2 294.2 122.7 294.3 122.3 C294.3 121.9 295.3 121.6 296.1 121.5 C296.8 121.4 298.2 121.7 298.9 121.7 C299.6 121.6 299.8 121.8 300.2 121.2 C300.7 120.7 301.6 119.1 301.7 118.5 C301.8 117.8 301.5 117.4 300.9 117.3 C300.2 117.2 298.7 117.5 297.8 118.0 C296.8 118.5 295.8 119.6 295.4 120.2 C294.9 120.9 295.0 121.5 295.1 122.0 C295.2 122.6 295.5 123.3 295.9 123.7 C296.4 124.0 296.9 123.7 297.6 124.0 C298.3 124.4 299.0 125.4 300.0 125.7 C300.9 125.9 302.6 125.7 303.3 125.4 C304.1 125.1 304.2 124.7 304.4 124.0 C304.5 123.2 304.4 121.9 304.2 120.9 C304.0 119.9 303.5 118.9 303.1 118.0 C302.6 117.1 301.3 115.9 301.3 115.5 C301.4 115.1 302.9 115.5 303.2 115.5" fill="none" stroke="#1a1a1a" stroke-width="0.8" stroke-linejoin="round" stroke-linecap="round"/>
<path d="M303.6 111.1 C303.9 111.5 305.7 112.9 305.8 113.5 C306.0 114.1 304.8 114.9 304.5 114.6 C304.2 114.3 303.9 112.5 304.1 111.6 C304.3 110.7 305.3 109.3 305.7 109.2 C306.1 109.2 306.5 110.6 306.5 111.3 C306.6 112.0 306.5 113.3 306.0 113.4 C305.5 113.5 303.7 112.2 303.8 111.8 C303.9 111.5 306.2 111.1 306.7 111.3 C307.2 111.5 307.1 112.8 306.8 112.9 C306.6 112.9 306.0 111.6 305.4 111.7 C304.7 111.7 303.6 112.7 302.9 113.1 C302.1 113.5 301.2 113.6 300.9 114.3 C300.6 114.9 301.4 116.2 301.1 116.9 C300.8 117.7 299.4 118.0 299.2 118.9 C299.0 119.7 299.9 121.1 299.8 122.0 C299.6 122.8 298.9 123.7 298.5 124.1 C298.1 124.6 297.6 124.9 297.3 124.8 C297.0 124.6 297.3 123.4 296.8 123.3 C296.3 123.1 294.8 123.2 294.1 123.7 C293.4 124.1 293.1 126.0 292.8 126.2 C292.6 126.4 292.6 125.2 292.8 124.7 C292.9 124.3 294.0 123.6 293.8 123.7 C293.7 123.7 292.2 124.6 291.9 125.0 C291.5 125.5 292.0 125.7 291.8 126.3 C291.7 127.0 291.5 128.5 291.0 128.8 C290.5 129.1 288.9 128.6 288.7 128.0 C288.5 127.4 289.5 126.2 289.8 125.2 C290.1 124.2 290.7 122.0 290.8 122.0 C290.8 122.0 290.8 124.7 290.1 125.0 C289.5 125.4 287.9 124.5 286.9 124.2 C285.9 123.9 284.9 123.6 284.3 123.3 C283.7 123.0 283.8 122.6 283.4 122.4 C283.0 122.1 281.9 121.6 281.8 121.7 C281.8 121.7 282.7 122.0 282.9 122.5 C283.2 122.9 283.2 124.4 283.2 124.3 C283.2 124.3 282.7 122.8 283.0 122.4 C283.3 121.9 284.2 121.9 284.8 121.8 C285.4 121.7 286.9 121.8 286.8 122.0 C286.7 122.1 284.4 122.9 284.0 122.7 C283.7 122.5 284.6 121.3 284.7 121.0" fill="none" stroke="#1a1a1a" stroke-width="0.8" stroke-linejoin="round" stroke-linecap="round"/>
<path d="M298.6 112.9 C298.8 112.6 299.1 111.3 299.5 110.9 C299.9 110.5 300.4 110.6 301.0 110.5 C301.7 110.3 302.6 110.2 303.6 110.0 C304.5 109.8 305.9 109.6 306.8 109.4 C307.6 109.3 308.4 108.8 308.8 109.0 C309.1 109.2 308.9 110.0 308.8 110.8 C308.7 111.6 308.7 112.9 308.2 113.8 C307.8 114.6 306.9 115.3 306.1 115.8 C305.3 116.3 304.3 116.5 303.6 116.9 C302.9 117.3 302.3 117.6 302.0 118.1 C301.8 118.6 301.6 119.6 302.2 120.1 C302.7 120.5 305.2 120.2 305.4 120.7 C305.6 121.2 303.9 122.3 303.2 122.9 C302.6 123.5 301.7 124.5 301.6 124.6 C301.4 124.6 302.6 123.0 302.3 122.9 C302.0 122.8 300.6 123.4 299.8 123.7 C299.0 124.1 297.6 124.3 297.2 124.8 C296.8 125.3 296.9 126.7 297.4 126.9 C297.8 127.1 299.3 126.5 300.0 126.2 C300.7 125.9 301.4 125.6 301.7 125.1 C301.9 124.6 301.9 123.8 301.4 123.4 C301.0 122.9 299.8 122.8 299.0 122.7 C298.2 122.5 296.6 122.8 296.7 122.6 C296.8 122.5 299.0 122.2 299.4 121.8 C299.8 121.4 299.2 120.6 299.0 120.1 C298.9 119.5 298.2 119.1 298.4 118.6 C298.6 118.2 300.0 118.0 300.5 117.4 C300.9 116.8 300.9 115.7 301.2 115.1 C301.5 114.5 302.2 114.6 302.3 113.8 C302.4 113.1 302.3 111.2 301.8 110.9 C301.2 110.6 300.0 111.9 299.0 112.1 C298.0 112.3 296.7 112.1 295.8 112.0 C295.0 111.8 294.7 111.5 293.8 111.3 C293.0 111.2 291.6 111.4 290.8 111.3 C290.0 111.2 289.8 110.8 289.3 110.8 C288.7 110.8 288.2 111.6 287.5 111.4 C286.8 111.2 285.6 110.2 285.2 109.5 C284.7 108.8 285.1 107.8 284.8 107.2 C284.5 106.5 283.9 106.3 283.4 105.6 C282.9 104.8 282.3 103.4 281.6 102.7 C281.0 102.0 280.4 101.3 279.7 101.5 C279.0 101.6 278.3 102.9 277.6 103.6 C276.9 104.3 275.9 105.1 275.6 105.4" fill="none" stroke="#1a1a1a" stroke-width="0.8" stroke-linejoin="round" stroke-linecap="round"/>
<path d="M298.4 108.1 C298.1 107.8 297.3 106.9 296.9 106.2 C296.5 105.5 296.4 104.3 296.0 103.9 C295.7 103.4 295.3 103.6 294.8 103.5 C294.3 103.4 293.1 103.6 292.9 103.2 C292.7 102.7 293.3 101.4 293.7 100.9 C294.1 100.4 294.9 100.6 295.4 100.2 C296.0 99.8 296.8 99.0 296.9 98.5 C296.9 98.1 296.2 97.8 295.8 97.5 C295.4 97.2 294.7 97.3 294.5 96.7 C294.2 96.1 294.6 94.8 294.5 93.8 C294.4 92.8 293.9 91.4 293.6 90.7 C293.4 89.9 293.5 89.6 293.0 89.5 C292.4 89.4 290.8 90.3 290.1 90.0 C289.5 89.7 289.5 88.3 289.1 87.6 C288.8 87.0 288.3 86.7 288.0 86.2 C287.7 85.7 287.0 84.9 287.3 84.8 C287.5 84.8 289.6 85.7 289.6 86.0 C289.5 86.2 287.7 86.2 287.1 86.4 C286.5 86.6 286.3 87.0 285.8 87.1 C285.4 87.1 284.3 86.9 284.4 86.7 C284.5 86.5 286.1 86.5 286.4 85.8 C286.8 85.1 286.3 83.4 286.7 82.6 C287.1 81.7 288.1 81.4 288.8 80.9 C289.5 80.5 290.4 80.5 291.0 79.8 C291.6 79.1 292.2 77.9 292.5 76.9 C292.7 75.8 292.9 74.2 292.6 73.5 C292.4 72.9 291.3 73.4 291.0 73.0 C290.8 72.7 290.7 72.2 290.9 71.5 C291.1 70.8 291.7 69.4 292.2 68.9 C292.7 68.4 293.2 68.7 293.9 68.6 C294.6 68.5 295.7 68.1 296.3 68.3 C296.9 68.5 297.0 69.4 297.6 69.8 C298.1 70.1 298.7 70.5 299.6 70.5 C300.4 70.5 301.7 70.1 302.6 69.9 C303.5 69.8 304.6 69.3 305.1 69.8 C305.5 70.3 305.3 72.1 305.4 72.9 C305.4 73.7 305.1 74.5 305.3 74.6 C305.5 74.7 306.0 73.7 306.6 73.5 C307.1 73.3 308.0 73.1 308.6 73.5 C309.2 73.9 309.3 75.6 310.0 76.0 C310.7 76.3 312.5 75.5 313.0 75.4" fill="none" stroke="#1a1a1a" stroke-width="0.8" stroke-linejoin="round" stroke-linecap="round"/>
<path d="M303.2 111.0 C303.6 110.9 305.0 110.6 305.6 110.7 C306.1 110.9 306.4 111.3 306.4 111.7 C306.5 112.2 306.0 112.9 305.9 113.5 C305.7 114.1 305.6 114.7 305.4 115.4 C305.3 116.1 305.3 117.8 305.0 117.8 C304.8 117.8 304.5 116.2 304.1 115.6 C303.7 115.1 303.2 114.9 302.7 114.3 C302.2 113.6 301.2 112.4 301.0 111.7 C300.8 111.0 301.6 110.0 301.4 109.9 C301.3 109.8 300.5 111.0 300.0 110.9 C299.6 110.8 299.0 109.9 298.8 109.3 C298.5 108.6 298.8 107.3 298.4 107.0 C298.1 106.7 297.3 107.4 296.5 107.6 C295.6 107.8 294.3 108.3 293.5 108.1 C292.7 107.9 291.8 106.7 291.7 106.5 C291.6 106.3 292.5 107.0 293.0 107.0 C293.6 107.0 294.6 106.1 295.1 106.4 C295.6 106.7 295.5 108.0 296.0 108.7 C296.5 109.4 297.8 110.1 298.1 110.7 C298.5 111.4 297.8 111.9 298.0 112.6 C298.1 113.3 298.8 114.8 299.1 114.9 C299.4 114.9 299.3 113.1 300.0 112.8 C300.6 112.5 302.4 113.2 303.1 113.2 C303.8 113.1 304.3 112.9 304.4 112.6 C304.5 112.3 303.6 112.1 303.6 111.4 C303.6 110.7 303.8 108.8 304.2 108.4 C304.6 107.9 305.2 108.2 305.8 108.7 C306.4 109.2 307.2 111.2 307.7 111.3 C308.1 111.4 308.6 109.9 308.5 109.1 C308.4 108.4 307.7 107.3 307.2 106.8 C306.7 106.2 306.4 105.8 305.7 105.8 C305.0 105.9 303.4 107.1 302.9 107.0 C302.4 106.9 302.4 105.5 302.6 105.3 C302.7 105.2 303.7 106.0 303.9 106.1" fill="none" stroke="#1a1a1a" stroke-width="0.8" stroke-linejoin="round" stroke-linecap="round"/>
<path d="M299.8 111.8 C300.1 112.1 301.9 113.4 301.8 113.7 C301.8 114.0 299.6 113.3 299.6 113.6 C299.6 114.0 301.6 115.4 301.8 116.0 C302.1 116.6 301.7 117.0 301.1 117.4 C300.6 117.8 299.3 118.7 298.5 118.5 C297.7 118.3 296.8 117.0 296.3 116.2 C295.9 115.3 296.3 113.7 295.9 113.4 C295.6 113.1 294.8 114.1 294.2 114.4 C293.7 114.7 293.3 115.7 292.8 115.4 C292.3 115.1 291.9 113.4 291.1 112.6 C290.4 111.9 289.1 111.1 288.3 110.9 C287.5 110.7 287.1 111.5 286.4 111.4 C285.6 111.3 284.4 111.1 283.9 110.5 C283.3 109.9 283.1 108.6 282.9 107.9 C282.8 107.2 282.6 106.8 282.8 106.3 C282.9 105.7 283.6 105.2 283.9 104.6 C284.2 104.0 284.2 103.4 284.5 102.7 C284.8 102.0 285.2 100.9 285.8 100.3 C286.3 99.7 287.4 99.0 287.8 99.0 C288.2 99.0 287.9 99.7 288.2 100.4 C288.6 101.0 289.3 102.0 289.8 102.8 C290.3 103.7 291.2 104.8 291.5 105.5 C291.7 106.3 291.1 106.8 291.1 107.4 C291.1 108.0 291.3 109.1 291.6 109.2 C291.9 109.4 292.8 108.8 293.0 108.3 C293.2 107.8 292.8 106.9 292.8 106.0 C292.8 105.1 293.5 103.2 293.2 102.9 C293.0 102.6 291.5 103.7 291.0 104.1 C290.5 104.5 290.5 105.3 290.2 105.3 C289.9 105.4 289.6 105.0 289.2 104.6 C288.8 104.2 288.1 103.6 287.9 103.1 C287.7 102.6 288.2 102.0 287.9 101.5 C287.7 101.0 286.7 100.4 286.4 100.2" fill="none" stroke="#1a1a1a" stroke-width="0.8" stroke-linejoin="round" stroke-linecap="round"/>
<path d="M301.4 112.5 C301.2 112.4 300.9 111.8 300.3 111.5 C299.8 111.2 298.9 111.0 298.0 110.9 C297.1 110.8 295.6 110.6 295.0 110.8 C294.5 110.9 294.4 111.4 294.5 112.0 C294.5 112.6 295.5 113.7 295.4 114.2 C295.3 114.7 294.5 115.0 294.0 114.9 C293.4 114.7 292.7 113.5 292.0 113.4 C291.2 113.2 289.9 113.8 289.3 113.7 C288.7 113.5 288.2 112.8 288.3 112.4 C288.3 111.9 289.7 110.8 289.7 111.0 C289.8 111.3 289.0 113.3 288.6 113.8 C288.1 114.4 287.3 113.8 287.0 114.1 C286.6 114.3 286.8 115.0 286.4 115.5 C286.1 116.0 285.1 116.4 284.7 117.0 C284.3 117.7 284.2 118.9 283.8 119.3 C283.4 119.7 282.7 119.7 282.2 119.4 C281.6 119.2 281.1 117.8 280.6 117.6 C280.1 117.4 279.6 117.9 279.0 118.2 C278.4 118.4 277.7 118.8 277.1 119.0 C276.4 119.2 276.1 119.6 275.3 119.4 C274.5 119.3 272.8 118.2 272.5 118.1 C272.2 118.1 272.8 118.6 273.4 119.1 C273.9 119.7 275.2 121.5 275.6 121.5 C276.0 121.4 275.7 119.8 275.8 119.0 C276.0 118.1 276.3 117.0 276.5 116.3 C276.8 115.7 277.1 114.9 277.3 114.9 C277.6 115.0 278.3 116.1 278.2 116.6 C278.0 117.2 277.0 117.8 276.4 118.2 C275.9 118.7 275.5 119.0 274.8 119.2 C274.1 119.4 273.0 119.2 272.3 119.4 C271.6 119.5 270.6 119.7 270.6 120.1 C270.7 120.6 272.0 121.9 272.5 122.2 C273.1 122.4 273.1 121.9 273.8 121.6 C274.5 121.2 276.3 120.2 276.9 120.2 C277.4 120.2 276.6 121.4 277.2 121.6 C277.7 121.7 279.6 121.6 280.2 121.2 C280.7 120.8 280.0 120.0 280.4 119.2 C280.7 118.5 282.1 117.2 282.3 116.6 C282.5 116.1 281.4 116.1 281.4 115.6 C281.5 115.2 282.3 114.4 282.5 113.8 C282.7 113.3 282.6 112.6 282.6 112.3" fill="none" stroke="#1a1a1a" stroke-width="0.8" stroke-linejoin="round" stroke-linecap="round"/>
<path d="M300.9 112.9 C300.9 113.2 300.2 114.6 300.7 114.6 C301.1 114.7 303.1 113.8 303.6 113.3 C304.2 112.9 304.3 112.2 304.1 112.0 C304.0 111.7 303.4 112.0 302.8 111.9 C302.2 111.8 301.3 111.3 300.5 111.2 C299.8 111.0 298.9 111.3 298.6 111.1 C298.3 110.8 298.3 110.2 298.7 109.6 C299.1 109.1 300.3 107.7 301.0 107.6 C301.7 107.4 302.3 108.0 302.9 108.5 C303.6 109.0 304.8 109.8 304.7 110.4 C304.6 111.1 302.9 111.6 302.3 112.2 C301.7 112.8 301.4 113.5 300.9 114.0 C300.5 114.5 299.5 114.7 299.5 115.2 C299.6 115.8 300.7 116.8 301.2 117.4 C301.8 118.0 302.4 118.3 302.8 119.0 C303.3 119.7 303.5 121.0 303.9 121.7 C304.4 122.4 304.7 123.0 305.3 123.3 C306.0 123.6 307.5 123.1 307.9 123.7 C308.4 124.2 307.7 125.7 307.9 126.5 C308.1 127.4 308.8 128.3 309.3 128.7 C309.8 129.0 310.5 129.1 310.7 128.6 C311.0 128.1 310.4 126.5 310.7 125.7 C311.1 124.8 312.7 123.8 312.7 123.3 C312.8 122.9 311.4 122.5 311.0 122.9 C310.5 123.4 309.8 125.0 309.8 125.8 C309.8 126.7 311.0 127.8 311.0 128.0 C311.0 128.3 310.3 127.3 309.7 127.5 C309.2 127.7 307.8 128.5 307.7 129.2 C307.6 129.9 309.1 130.9 309.2 131.6 C309.3 132.3 308.0 133.1 308.2 133.3 C308.3 133.6 309.8 132.7 309.9 133.1 C310.0 133.4 309.4 134.8 308.7 135.5 C308.1 136.2 306.3 136.8 306.2 137.4 C306.0 137.9 307.2 138.3 307.9 138.7 C308.6 139.0 309.8 138.8 310.3 139.4 C310.9 140.1 311.3 141.8 311.1 142.6 C311.0 143.4 309.8 143.8 309.6 144.1" fill="none" stroke="#1a1a1a" stroke-width="0.8" stroke-linejoin="round" stroke-linecap="round"/>
<path d="M297.9 109.3 C297.9 109.6 298.1 110.8 297.8 111.3 C297.4 111.8 296.3 111.8 296.1 112.2 C295.9 112.5 296.3 113.0 296.6 113.5 C297.0 114.0 298.2 114.9 298.0 115.3 C297.8 115.7 296.3 115.8 295.4 115.9 C294.5 116.0 293.3 115.8 292.7 115.9 C292.1 116.1 292.1 116.5 291.6 116.7 C291.1 116.9 290.4 116.7 289.8 117.2 C289.2 117.7 288.3 119.0 288.0 120.0 C287.7 121.0 288.3 122.3 288.1 123.1 C287.8 124.0 287.1 124.8 286.5 125.1 C285.8 125.4 285.0 124.5 284.2 124.8 C283.4 125.1 282.0 126.8 281.6 126.9 C281.2 127.0 281.8 126.0 281.9 125.2 C281.9 124.4 281.7 122.8 281.8 122.2 C282.0 121.5 282.4 121.3 282.8 121.3 C283.2 121.3 284.1 121.6 284.1 122.2 C284.2 122.9 283.2 124.3 283.0 125.0 C282.9 125.8 283.0 126.2 283.2 126.8 C283.4 127.5 284.2 128.1 284.3 129.0 C284.5 129.9 283.8 131.4 284.3 132.1 C284.8 132.8 286.3 132.9 287.3 133.2 C288.4 133.4 289.5 133.7 290.4 133.8 C291.4 133.9 292.3 133.9 293.0 133.7 C293.8 133.5 294.3 132.6 295.0 132.7 C295.7 132.8 296.3 134.0 297.0 134.4 C297.8 134.8 298.7 135.5 299.5 135.4 C300.2 135.2 300.6 133.6 301.4 133.5 C302.3 133.4 303.6 134.9 304.4 134.7 C305.3 134.4 306.1 132.7 306.6 132.1 C307.1 131.5 306.9 131.2 307.5 131.0 C308.1 130.9 309.5 131.7 309.9 131.4 C310.3 131.1 310.0 130.0 310.0 129.2 C310.0 128.3 310.3 126.4 310.1 126.4 C309.9 126.3 309.3 128.5 308.9 128.9 C308.4 129.4 308.1 129.1 307.3 129.0 C306.5 128.8 304.9 128.6 304.1 128.2 C303.3 127.7 303.0 126.8 302.4 126.3 C301.7 125.9 300.4 125.6 300.0 125.5" fill="none" stroke="#1a1a1a" stroke-width="0.8" stroke-linejoin="round" stroke-linecap="round"/>
<path d="M300.7 111.0 C301.0 110.8 301.5 110.3 302.0 109.7 C302.5 109.1 303.1 107.5 303.7 107.3 C304.2 107.2 305.0 108.2 305.4 108.6 C305.8 109.0 306.5 109.4 306.3 109.8 C306.1 110.2 304.8 110.2 304.2 110.8 C303.6 111.5 302.5 113.1 302.5 113.7 C302.5 114.3 304.5 113.9 304.4 114.3 C304.3 114.7 302.6 115.5 302.0 116.2 C301.4 116.9 301.3 117.5 300.9 118.3 C300.4 119.1 299.8 120.5 299.3 121.1 C298.9 121.6 298.1 121.8 298.0 121.6 C297.9 121.3 299.1 120.0 298.6 119.7 C298.2 119.4 296.4 119.7 295.4 119.9 C294.5 120.0 293.3 120.8 293.0 120.6 C292.8 120.4 293.6 119.5 293.7 118.7 C293.8 117.9 293.8 116.8 293.6 116.0 C293.4 115.2 292.4 114.0 292.6 113.9 C292.8 113.8 294.4 114.9 294.6 115.6 C294.8 116.3 293.8 117.4 293.7 118.2 C293.7 118.9 293.8 119.7 294.3 120.1 C294.7 120.6 296.3 120.6 296.4 120.9 C296.6 121.2 295.7 122.0 295.3 121.9 C294.8 121.8 294.4 120.4 293.8 120.1 C293.2 119.7 292.0 120.1 291.7 119.9 C291.3 119.6 291.4 118.5 291.7 118.5 C291.9 118.5 292.6 120.0 293.1 119.7 C293.5 119.5 294.1 117.8 294.4 117.0 C294.6 116.1 294.0 115.4 294.4 114.8 C294.8 114.3 296.2 113.8 297.0 113.7 C297.7 113.6 298.6 113.8 299.0 114.1 C299.5 114.4 299.6 115.3 299.7 115.5" fill="none" stroke="#1a1a1a" stroke-width="0.8" stroke-linejoin="round" stroke-linecap="round"/>
<path d="M295.9 111.1 C295.9 110.7 296.4 109.0 296.1 108.6 C295.9 108.3 294.4 109.1 294.3 109.0 C294.2 108.8 294.9 107.5 295.5 107.6 C296.1 107.6 297.3 108.5 297.8 109.2 C298.3 109.9 298.2 111.5 298.6 111.8 C298.9 112.1 299.2 110.8 299.7 110.8 C300.2 110.8 301.1 112.0 301.4 111.8 C301.7 111.5 301.6 109.2 301.4 109.1 C301.2 109.1 300.7 110.8 300.2 111.6 C299.7 112.4 298.3 113.4 298.2 114.2 C298.1 115.0 299.1 116.0 299.9 116.5 C300.6 117.0 302.2 116.7 302.8 117.2 C303.3 117.6 303.5 118.5 303.3 119.1 C303.1 119.7 301.8 121.0 301.6 120.8 C301.3 120.7 301.9 118.9 301.7 118.5 C301.5 118.0 300.3 117.8 300.2 118.0 C300.1 118.2 301.4 119.1 301.3 119.7 C301.3 120.3 300.6 121.1 299.9 121.6 C299.2 122.1 297.7 122.2 297.1 122.8 C296.5 123.3 296.2 124.3 296.4 124.8 C296.7 125.3 297.8 125.6 298.7 125.8 C299.6 126.0 301.6 125.6 301.6 125.9 C301.7 126.2 300.0 127.6 299.2 127.7 C298.3 127.7 296.9 126.9 296.7 126.3 C296.4 125.7 297.4 124.1 297.8 124.2 C298.2 124.3 298.3 126.7 298.9 126.9 C299.5 127.1 301.2 126.0 301.6 125.5 C301.9 125.0 301.2 123.9 300.8 124.1 C300.5 124.3 299.7 125.8 299.5 126.5 C299.3 127.2 299.3 128.1 299.5 128.4 C299.8 128.7 300.9 128.5 300.9 128.2 C301.0 127.9 300.4 126.7 300.0 126.6 C299.6 126.4 299.1 127.0 298.4 127.3 C297.7 127.5 296.8 128.1 295.8 128.1 C294.9 128.1 293.5 127.7 292.6 127.3 C291.7 126.8 291.0 125.8 290.4 125.6 C289.9 125.4 289.6 126.2 289.2 126.3 C288.7 126.4 288.4 125.9 287.9 126.2 C287.4 126.5 286.7 127.8 286.2 128.2 C285.7 128.6 285.4 128.7 284.8 128.5 C284.3 128.4 283.3 127.3 283.0 127.3 C282.7 127.3 282.7 128.1 283.1 128.7 C283.5 129.2 284.9 129.9 285.4 130.6 C285.8 131.4 285.7 132.8 285.7 133.2" fill="none" stroke="#1a1a1a" stroke-width="0.8" stroke-linejoin="round" stroke-linecap="round"/>
<path d="M300.4 113.4 C300.6 113.8 301.3 114.7 301.5 115.6 C301.7 116.5 301.3 118.1 301.6 118.9 C302.0 119.7 303.1 120.0 303.7 120.3 C304.3 120.6 304.5 121.1 305.2 120.9 C305.9 120.8 307.0 120.0 307.8 119.4 C308.7 118.9 309.7 117.6 310.4 117.4 C311.1 117.3 311.6 118.0 312.0 118.5 C312.4 119.0 312.7 119.5 312.9 120.4 C313.1 121.2 312.6 123.2 313.2 123.6 C313.8 124.1 315.7 123.1 316.3 123.2 C317.0 123.3 316.6 124.2 317.2 124.3 C317.8 124.3 319.2 123.5 319.8 123.7 C320.4 123.8 320.3 125.0 320.9 125.2 C321.4 125.4 322.6 125.5 323.1 124.9 C323.5 124.3 323.1 122.2 323.5 121.6 C323.8 121.0 324.8 121.8 325.1 121.3 C325.5 120.9 325.2 119.6 325.7 118.8 C326.1 118.1 327.1 117.2 327.7 116.8 C328.3 116.4 328.4 116.5 329.1 116.4 C329.8 116.3 331.1 116.3 332.0 116.2 C333.0 116.1 334.2 115.8 334.9 115.6 C335.7 115.4 336.7 115.4 336.5 115.0 C336.4 114.7 334.7 114.2 334.2 113.4 C333.6 112.7 333.4 111.3 333.0 110.8 C332.6 110.3 332.1 110.5 331.7 110.4 C331.2 110.4 330.5 110.0 330.3 110.3 C330.2 110.6 330.2 112.3 330.6 112.3 C330.9 112.4 331.9 110.7 332.6 110.7 C333.4 110.6 334.4 112.3 335.1 112.1 C335.7 112.0 336.0 110.6 336.3 109.8 C336.5 109.0 336.6 108.0 336.5 107.4 C336.5 106.7 335.8 106.5 336.0 105.9 C336.2 105.4 337.5 104.4 337.9 103.8 C338.2 103.3 338.5 103.0 338.2 102.5 C337.9 102.1 336.6 101.6 335.8 101.1 C335.0 100.5 334.2 99.2 333.5 99.1 C332.8 98.9 332.1 100.0 331.6 100.0 C331.1 100.0 331.0 99.1 330.5 99.1 C330.0 99.1 328.9 99.1 328.6 99.8 C328.2 100.4 328.4 102.5 328.4 103.1" fill="none" stroke="#1a1a1a" stroke-width="0.8" stroke-linejoin="round" stroke-linecap="round"/>
<path d="M303.4 109.5 C303.2 109.8 302.0 110.6 302.1 111.1 C302.1 111.5 303.4 112.1 303.5 112.0 C303.6 111.8 302.8 111.0 302.8 110.3 C302.7 109.5 303.7 108.0 303.4 107.4 C303.1 106.8 301.1 107.0 300.7 106.5 C300.4 105.9 301.1 104.4 301.3 104.3 C301.5 104.2 302.3 105.2 302.1 105.7 C301.9 106.1 300.5 106.8 300.0 106.9 C299.5 106.9 299.1 106.2 299.1 105.9 C299.1 105.5 300.1 104.4 300.0 104.6 C299.9 104.9 299.2 106.5 298.5 107.2 C297.8 107.9 296.5 109.0 295.8 108.9 C295.1 108.7 294.9 106.7 294.3 106.2 C293.7 105.6 292.4 106.3 292.1 105.7 C291.7 105.2 292.1 103.6 292.2 102.8 C292.2 102.1 292.4 101.7 292.4 101.1 C292.5 100.5 292.3 99.9 292.6 99.1 C292.9 98.3 293.8 97.4 294.1 96.4 C294.4 95.4 294.9 93.7 294.4 93.1 C294.0 92.5 292.1 93.1 291.2 92.8 C290.4 92.4 289.2 91.5 289.2 91.0 C289.2 90.5 291.0 90.4 291.3 89.7 C291.7 89.1 290.9 87.8 291.1 86.9 C291.2 86.1 292.1 85.4 292.2 84.5 C292.2 83.6 291.3 81.9 291.6 81.5 C291.9 81.1 292.9 82.0 293.8 82.2 C294.6 82.4 296.0 82.7 296.8 82.7 C297.7 82.7 298.4 82.3 299.0 81.9 C299.7 81.6 300.3 81.3 300.6 80.5 C300.9 79.8 301.0 77.8 300.9 77.4 C300.8 77.0 299.7 77.8 299.8 78.1 C299.8 78.3 300.5 79.0 301.2 79.1 C301.9 79.2 303.5 78.5 304.0 78.4" fill="none" stroke="#1a1a1a" stroke-width="0.8" stroke-linejoin="round" stroke-linecap="round"/>
<path d="M300.4 111.2 C300.6 111.2 301.2 111.3 301.8 111.2 C302.3 111.0 302.8 110.4 303.4 110.5 C304.1 110.6 304.9 111.5 305.9 111.7 C306.8 111.9 308.6 112.2 309.1 111.9 C309.6 111.7 308.9 110.2 308.7 110.1 C308.4 110.0 307.9 111.4 307.6 111.4 C307.4 111.4 307.3 110.7 307.2 109.9 C307.1 109.1 307.2 107.7 307.0 106.6 C306.9 105.6 306.7 104.4 306.3 103.7 C305.9 103.1 305.6 103.0 304.9 102.9 C304.1 102.9 302.9 103.1 301.9 103.3 C300.9 103.4 299.9 103.6 298.8 103.7 C297.8 103.9 296.7 103.9 295.8 104.0 C294.8 104.1 294.1 104.5 293.3 104.3 C292.6 104.1 291.8 102.9 291.1 102.9 C290.5 103.0 289.9 104.4 289.4 104.8 C289.0 105.3 288.7 105.2 288.3 105.7 C288.0 106.2 287.6 107.4 287.4 108.0 C287.2 108.6 287.8 109.0 287.3 109.3 C286.8 109.6 284.7 110.3 284.5 110.0 C284.4 109.7 285.6 108.1 286.2 107.5 C286.8 106.9 287.6 106.3 288.1 106.2 C288.6 106.2 289.3 106.9 289.4 107.4 C289.4 107.9 288.5 109.4 288.3 109.4 C288.2 109.3 288.3 107.1 288.5 106.9 C288.8 106.8 290.1 107.8 290.0 108.4 C289.8 108.9 288.3 110.1 287.4 110.1 C286.6 110.1 285.3 109.1 284.9 108.5 C284.4 107.9 284.5 107.2 284.9 106.5 C285.2 105.9 285.9 104.6 286.8 104.4 C287.7 104.2 289.5 104.6 290.0 105.2 C290.5 105.8 290.0 107.4 289.8 108.1 C289.6 108.8 289.3 108.7 288.9 109.3 C288.5 109.9 287.4 110.9 287.4 111.6 C287.3 112.2 288.1 113.0 288.7 113.3 C289.3 113.6 290.5 113.8 290.9 113.3 C291.3 112.8 291.6 110.9 291.3 110.1 C290.9 109.4 289.3 109.5 288.8 108.8 C288.2 108.1 288.2 105.9 288.0 105.9 C287.8 105.8 288.1 108.4 287.6 108.6 C287.1 108.9 285.6 107.7 284.9 107.2 C284.2 106.7 283.8 106.3 283.5 105.5 C283.2 104.7 283.4 103.1 283.1 102.3 C282.8 101.5 282.2 101.0 281.7 100.6 C281.2 100.1 280.7 99.5 280.2 99.4 C279.6 99.4 278.9 99.8 278.3 100.1 C277.6 100.4 277.3 101.1 276.4 101.3 C275.5 101.6 273.5 101.1 273.1 101.6 C272.6 102.1 273.4 104.4 273.7 104.4 C274.0 104.4 274.8 102.1 275.0 101.7" fill="none" stroke="#1a1a1a" stroke-width="0.8" stroke-linejoin="round" stroke-linecap="round"/>
<path d="M299.5 109.4 C299.6 109.7 299.8 110.3 299.9 111.1 C300.0 111.9 300.6 113.5 300.2 114.3 C299.9 115.1 298.5 115.3 297.9 116.0 C297.3 116.7 297.3 118.5 296.8 118.7 C296.3 118.9 295.3 117.4 294.8 117.4 C294.3 117.3 294.4 118.2 293.9 118.6 C293.3 118.9 291.9 119.0 291.4 119.5 C291.0 120.0 291.1 121.5 291.0 121.5 C291.0 121.6 291.4 120.5 291.1 119.9 C290.9 119.3 290.3 118.3 289.5 118.1 C288.7 117.9 286.9 118.1 286.3 118.5 C285.7 118.9 286.5 120.4 286.0 120.6 C285.4 120.8 283.5 119.7 282.8 119.7 C282.1 119.7 282.3 120.3 281.7 120.7 C281.0 121.1 279.5 122.0 278.9 122.2 C278.2 122.3 278.4 121.8 277.7 121.5 C277.0 121.1 275.0 120.5 274.7 120.1 C274.4 119.7 276.1 119.5 276.0 119.1 C275.8 118.6 274.2 118.2 273.8 117.4 C273.3 116.7 273.4 115.4 273.3 114.6 C273.2 113.9 273.3 113.2 273.0 112.8 C272.8 112.4 272.3 112.4 271.8 112.3 C271.3 112.1 270.7 111.7 269.9 112.0 C269.2 112.4 267.8 113.4 267.5 114.2 C267.1 115.0 267.5 116.4 268.1 116.8 C268.6 117.2 270.0 116.9 270.6 116.8 C271.3 116.7 271.7 116.5 271.9 116.2 C272.2 115.9 271.8 115.1 272.1 114.8 C272.4 114.5 273.2 114.5 273.7 114.5 C274.2 114.4 275.4 114.2 275.2 114.3 C275.0 114.5 273.4 115.1 272.7 115.3 C272.0 115.6 271.4 115.7 270.9 115.8 C270.3 115.9 269.8 115.7 269.4 116.0 C269.0 116.3 268.1 117.2 268.3 117.6 C268.4 118.1 269.9 118.1 270.2 118.7 C270.5 119.4 270.4 121.3 270.2 121.5 C270.0 121.7 268.8 120.4 269.0 119.9 C269.2 119.4 271.3 118.4 271.6 118.4 C272.0 118.5 271.6 119.5 271.1 120.1 C270.6 120.7 269.6 121.9 268.9 122.3 C268.2 122.7 267.3 122.3 267.1 122.6 C266.8 122.8 267.7 123.4 267.6 123.8 C267.5 124.2 266.8 125.3 266.6 125.1 C266.5 124.9 267.2 122.9 266.9 122.4 C266.7 122.0 265.7 122.2 265.2 122.4 C264.8 122.6 264.3 123.8 264.3 123.7 C264.3 123.6 265.0 121.8 265.3 121.8 C265.7 121.9 266.2 123.7 266.6 124.2 C267.1 124.6 267.6 124.5 268.0 124.5 C268.5 124.5 268.6 124.2 269.4 124.3 C270.1 124.4 271.7 125.0 272.6 125.1 C273.4 125.1 273.7 124.8 274.5 124.5 C275.3 124.2 276.6 123.7 277.2 123.3 C277.8 122.8 277.9 121.9 278.0 121.6" fill="none" stroke="#1a1a1a" stroke-width="0.8" stroke-linejoin="round" stroke-linecap="round"/>
<path d="M301.0 113.6 C301.5 113.5 302.9 113.5 303.8 113.1 C304.8 112.8 306.0 111.2 306.6 111.4 C307.2 111.6 307.3 113.4 307.5 114.4 C307.6 115.4 307.6 116.4 307.3 117.3 C306.9 118.2 305.7 119.1 305.4 119.8 C305.1 120.5 305.7 121.0 305.6 121.7 C305.5 122.3 305.0 122.9 304.7 123.5 C304.3 124.1 303.9 124.6 303.7 125.3 C303.4 126.0 303.5 127.2 303.2 127.6 C302.9 127.9 302.0 127.1 301.7 127.5 C301.3 127.8 301.2 128.8 301.2 129.6 C301.2 130.3 302.0 131.6 301.8 131.8 C301.7 131.9 300.6 130.5 300.1 130.4 C299.7 130.3 299.5 131.0 299.0 131.3 C298.5 131.5 297.5 132.0 296.9 131.9 C296.3 131.8 296.0 131.2 295.5 130.8 C294.9 130.5 293.9 130.3 293.3 129.8 C292.7 129.4 292.2 129.0 291.7 128.2 C291.2 127.4 290.1 125.7 290.5 125.0 C290.8 124.4 292.8 124.7 293.6 124.4 C294.5 124.1 295.0 123.5 295.5 123.3 C296.1 123.0 296.7 123.3 296.9 123.0 C297.1 122.6 296.7 121.6 296.5 121.0 C296.4 120.5 296.6 119.7 296.0 119.6 C295.3 119.5 293.8 120.3 292.8 120.5 C291.8 120.7 290.4 121.1 289.9 120.7 C289.4 120.3 289.6 118.5 289.8 118.1 C290.0 117.7 290.8 118.3 291.3 118.3 C291.8 118.2 292.6 117.5 292.7 117.8 C292.7 118.2 291.6 119.6 291.7 120.4 C291.7 121.1 292.6 121.6 293.0 122.3 C293.4 123.0 294.2 123.9 294.2 124.6 C294.1 125.4 292.5 126.7 292.7 126.8 C292.9 127.0 294.7 125.4 295.2 125.7 C295.7 126.0 295.7 127.6 295.7 128.5 C295.6 129.5 295.5 130.5 295.1 131.2 C294.7 131.8 294.1 132.3 293.3 132.3 C292.5 132.3 291.4 131.4 290.4 131.1 C289.4 130.8 288.3 130.8 287.4 130.4 C286.5 130.1 285.7 129.1 285.1 129.0 C284.6 128.9 284.2 129.6 284.0 129.8" fill="none" stroke="#1a1a1a" stroke-width="0.8" stroke-linejoin="round" stroke-linecap="round"/>
<path d="M297.0 111.7 C297.1 111.9 297.3 112.6 297.7 112.9 C298.0 113.2 298.6 113.1 299.2 113.5 C299.9 113.9 301.3 115.3 301.5 115.3 C301.7 115.2 301.2 113.5 300.6 113.3 C300.0 113.2 298.2 114.3 298.1 114.4 C298.0 114.5 299.1 113.9 299.7 113.7 C300.4 113.5 302.0 113.4 302.0 113.4 C302.0 113.4 300.6 113.5 299.7 113.7 C298.8 114.0 297.4 114.4 296.6 115.0 C295.8 115.7 295.3 116.9 295.1 117.7 C294.9 118.4 295.5 119.0 295.3 119.4 C295.0 119.7 294.4 119.6 293.5 119.8 C292.7 120.0 291.1 120.2 290.3 120.6 C289.6 120.9 289.6 122.0 289.0 122.0 C288.3 122.1 286.9 121.5 286.5 121.1 C286.1 120.6 286.4 120.2 286.5 119.4 C286.7 118.7 286.8 116.8 287.2 116.5 C287.6 116.1 288.3 117.0 288.9 117.3 C289.5 117.5 290.6 118.3 290.9 118.2 C291.3 118.1 291.3 117.1 291.1 116.6 C291.0 116.1 289.9 115.4 290.0 115.2 C290.1 115.0 291.5 115.3 291.6 115.5 C291.7 115.7 290.2 116.0 290.4 116.5 C290.6 117.0 292.1 118.2 292.7 118.6 C293.3 119.1 293.4 119.0 294.0 119.3 C294.5 119.6 295.7 120.1 296.1 120.7 C296.5 121.2 296.2 122.8 296.6 122.8 C296.9 122.9 297.5 120.8 298.2 120.7 C298.9 120.6 300.3 121.5 300.8 122.3 C301.3 123.1 300.8 124.7 300.9 125.5 C301.1 126.4 301.7 127.4 301.6 127.6 C301.5 127.7 300.7 126.9 300.6 126.4 C300.5 126.0 300.9 125.9 300.9 125.1 C300.9 124.4 300.2 122.7 300.6 121.8 C301.0 121.0 303.0 120.8 303.2 120.1 C303.4 119.3 302.0 118.2 302.0 117.3 C301.9 116.4 302.9 115.2 303.0 114.5 C303.0 113.8 302.6 113.3 302.2 113.2 C301.7 113.0 300.9 113.1 300.4 113.6 C299.9 114.2 299.0 115.7 299.3 116.4 C299.6 117.1 301.6 117.4 302.1 117.9 C302.6 118.4 302.2 118.6 302.5 119.3 C302.8 120.0 303.2 121.5 303.8 122.2 C304.5 122.8 306.0 123.0 306.4 123.2" fill="none" stroke="#1a1a1a" stroke-width="0.8" stroke-linejoin="round" stroke-linecap="round"/>
<path d="M299.0 109.7 C299.0 109.4 299.1 108.3 299.4 107.9 C299.7 107.5 300.8 107.8 300.7 107.3 C300.6 106.9 299.5 106.1 299.0 105.2 C298.5 104.4 297.6 103.1 297.7 102.3 C297.7 101.5 299.1 101.4 299.1 100.6 C299.1 99.8 297.4 98.3 297.6 97.7 C297.9 97.1 300.1 97.7 300.7 97.1 C301.4 96.5 301.2 94.9 301.6 93.9 C302.0 92.9 303.1 91.1 303.2 91.0 C303.4 90.9 302.9 93.1 302.5 93.3 C302.1 93.5 300.9 92.7 300.7 92.2 C300.6 91.7 301.0 90.4 301.6 90.3 C302.1 90.2 303.4 91.5 304.1 91.5 C304.7 91.5 304.9 90.3 305.7 90.3 C306.5 90.3 308.2 91.7 308.8 91.6 C309.4 91.6 309.5 90.3 309.2 90.1 C308.9 90.0 307.5 91.0 306.9 90.7 C306.3 90.3 306.4 88.6 305.8 88.3 C305.2 87.9 304.0 88.0 303.5 88.4 C303.0 88.8 303.0 90.0 302.6 90.7 C302.2 91.3 301.8 91.6 301.3 92.2 C300.7 92.8 299.4 93.5 299.2 94.3 C299.0 95.1 299.6 96.4 300.1 96.9 C300.6 97.4 301.9 97.5 302.2 97.3 C302.5 97.2 302.2 96.3 301.8 95.8 C301.4 95.4 300.4 94.7 299.8 94.5 C299.2 94.3 298.8 94.7 298.1 94.9 C297.3 95.0 295.7 95.7 295.2 95.4 C294.8 95.2 295.0 93.8 295.2 93.3 C295.4 92.9 296.5 92.9 296.6 92.6 C296.8 92.2 296.5 91.2 296.1 91.3 C295.6 91.4 294.4 92.8 293.9 93.2 C293.3 93.5 292.8 93.7 292.5 93.4 C292.1 93.1 292.3 91.8 291.7 91.4 C291.2 91.0 289.3 91.3 289.3 90.9 C289.3 90.6 291.0 89.4 291.7 89.0 C292.3 88.6 292.6 88.8 293.1 88.6 C293.6 88.5 294.4 88.3 294.7 88.2" fill="none" stroke="#1a1a1a" stroke-width="0.8" stroke-linejoin="round" stroke-linecap="round"/>
<path d="M300.7 111.3 C300.9 111.2 301.2 110.5 301.8 110.3 C302.3 110.1 303.5 110.1 304.1 110.2 C304.7 110.3 304.7 110.8 305.4 110.8 C306.1 110.8 307.3 109.9 308.2 110.1 C309.0 110.4 310.0 112.0 310.6 112.0 C311.3 112.1 311.7 110.6 311.9 110.7 C312.0 110.8 311.9 111.7 311.6 112.5 C311.2 113.3 310.2 114.6 309.7 115.3 C309.3 116.0 309.2 116.2 308.7 116.5 C308.1 116.7 306.9 116.3 306.3 116.6 C305.8 116.8 305.2 118.0 305.3 117.8 C305.5 117.6 307.4 115.9 307.3 115.6 C307.1 115.2 305.2 116.0 304.4 115.9 C303.7 115.8 303.3 114.9 302.9 114.8 C302.4 114.8 302.2 115.2 301.7 115.5 C301.3 115.9 300.6 116.8 300.1 117.1 C299.6 117.4 299.1 117.8 298.7 117.5 C298.3 117.2 297.4 116.0 297.6 115.6 C297.7 115.2 299.0 114.9 299.8 115.1 C300.6 115.3 301.8 116.7 302.4 116.6 C303.0 116.5 303.1 115.4 303.3 114.5 C303.6 113.6 303.8 112.1 304.1 111.3 C304.3 110.5 304.1 110.2 304.6 109.7 C305.1 109.2 306.7 108.9 307.1 108.3 C307.5 107.7 307.1 106.4 306.8 106.0 C306.5 105.5 305.9 105.7 305.4 105.6 C304.9 105.5 303.9 105.7 303.6 105.4 C303.4 105.1 303.6 104.4 303.8 103.7 C304.0 102.9 304.7 101.7 304.7 101.0 C304.7 100.3 304.1 100.3 303.9 99.5 C303.6 98.7 303.0 96.6 303.0 96.3 C303.0 96.0 303.6 97.2 303.9 97.6 C304.2 98.0 304.3 98.6 304.8 98.7 C305.4 98.7 306.6 98.0 307.5 97.9 C308.4 97.8 309.5 98.1 310.2 97.9 C310.9 97.6 312.0 96.8 311.8 96.5 C311.7 96.2 310.2 95.9 309.5 96.0 C308.8 96.1 308.2 97.3 307.9 97.1 C307.6 97.0 307.9 95.8 307.8 95.2 C307.6 94.7 307.0 94.4 307.0 93.7 C307.0 93.1 307.6 92.0 307.9 91.3 C308.2 90.6 308.2 90.2 308.6 89.5 C309.1 88.8 310.1 88.0 310.5 87.2 C310.9 86.4 311.2 84.7 311.0 84.5 C310.8 84.4 309.9 85.6 309.4 86.2 C308.9 86.9 308.6 87.9 308.0 88.5 C307.4 89.1 306.5 89.2 305.8 89.8 C305.2 90.5 304.7 91.6 304.2 92.3 C303.6 93.0 302.3 93.8 302.5 94.0 C302.8 94.3 305.0 93.6 305.8 93.8 C306.6 94.0 306.7 94.8 307.4 95.2 C308.1 95.6 309.8 95.8 310.2 96.0" fill="none" stroke="#1a1a1a" stroke-width="0.8" stroke-linejoin="round" stroke-linecap="round"/>
<path d="M297.1 113.5 C297.5 113.5 298.8 113.6 299.4 113.4 C299.9 113.2 300.2 113.2 300.4 112.4 C300.5 111.7 300.2 110.0 300.4 109.1 C300.7 108.2 301.4 108.0 301.7 107.2 C302.0 106.5 302.2 105.6 302.3 104.7 C302.4 103.8 302.2 102.7 302.5 101.9 C302.8 101.0 303.8 100.1 304.0 99.4 C304.3 98.6 304.0 97.8 304.1 97.2 C304.2 96.7 304.2 96.3 304.5 95.8 C304.7 95.3 305.2 95.0 305.6 94.3 C306.1 93.6 306.7 92.4 307.2 91.8 C307.6 91.3 307.9 91.2 308.4 91.0 C308.8 90.8 309.9 91.0 310.0 90.8 C310.0 90.6 309.1 90.1 308.6 89.9 C308.1 89.7 307.6 89.8 307.0 89.7 C306.4 89.6 305.4 89.1 305.0 89.2 C304.6 89.4 304.6 90.2 304.3 90.7 C304.1 91.1 303.4 91.9 303.5 91.9 C303.6 92.0 304.3 91.4 304.9 90.8 C305.6 90.3 307.1 88.8 307.1 88.5 C307.2 88.3 305.5 89.6 305.0 89.4 C304.6 89.3 304.9 88.2 304.5 87.6 C304.2 87.0 303.5 86.3 303.0 85.9 C302.5 85.6 301.7 85.2 301.5 85.4 C301.3 85.5 301.9 86.3 301.7 87.0 C301.5 87.8 300.7 88.9 300.4 89.7 C300.0 90.5 300.0 90.9 299.8 91.6 C299.5 92.3 299.7 93.3 299.0 93.8 C298.4 94.3 296.4 94.8 295.8 94.6 C295.1 94.4 295.0 93.0 295.2 92.7 C295.4 92.4 296.3 92.9 296.8 93.0 C297.4 93.1 298.0 93.5 298.5 93.3 C299.0 93.0 299.0 91.7 299.6 91.4 C300.2 91.1 301.8 91.7 302.1 91.6 C302.3 91.4 301.6 91.2 301.2 90.6 C300.8 89.9 300.3 87.9 299.6 87.8 C299.0 87.7 297.4 89.2 297.2 90.0 C296.9 90.8 298.3 92.5 298.2 92.8 C298.0 93.2 297.0 92.2 296.4 92.2 C295.8 92.3 295.3 93.2 294.6 93.2 C294.0 93.2 293.3 93.0 292.8 92.4 C292.2 91.7 291.6 90.3 291.5 89.4 C291.3 88.6 292.2 87.7 291.8 87.3 C291.4 87.0 289.3 87.1 289.0 87.4 C288.6 87.7 290.3 88.7 289.8 89.0 C289.4 89.3 287.2 88.7 286.5 89.1 C285.7 89.6 285.7 91.0 285.4 91.7 C285.1 92.4 284.3 93.2 284.5 93.3 C284.8 93.4 286.8 92.8 287.1 92.4 C287.3 92.1 286.0 91.5 286.2 91.1 C286.4 90.7 288.1 90.6 288.4 90.1 C288.7 89.5 287.7 88.2 288.1 88.1 C288.5 87.9 290.5 89.0 291.0 89.1" fill="none" stroke="#1a1a1a" stroke-width="0.8" stroke-linejoin="round" stroke-linecap="round"/>
<path d="M300.3 110.2 C300.7 110.0 302.5 109.4 302.7 109.1 C302.9 108.7 301.7 108.7 301.6 108.1 C301.6 107.6 302.4 106.5 302.3 106.0 C302.1 105.4 301.2 105.4 300.7 104.7 C300.2 104.1 299.7 102.1 299.3 101.9 C299.0 101.7 298.7 103.0 298.5 103.5 C298.4 104.0 298.8 104.5 298.6 105.0 C298.4 105.5 297.5 106.5 297.2 106.4 C297.0 106.4 297.0 105.2 297.1 104.6 C297.1 104.1 297.2 103.3 297.5 103.3 C297.8 103.2 298.6 103.8 298.9 104.3 C299.1 104.9 298.4 106.4 298.9 106.6 C299.4 106.8 301.3 105.4 302.0 105.5 C302.7 105.5 302.6 107.1 303.0 107.1 C303.4 107.1 304.8 105.8 304.5 105.4 C304.2 105.0 302.5 104.8 301.4 104.6 C300.4 104.4 299.1 103.9 298.3 104.2 C297.6 104.5 297.7 106.1 297.0 106.3 C296.3 106.4 294.7 105.7 294.2 105.2 C293.6 104.6 294.4 103.3 293.8 102.8 C293.3 102.4 291.7 102.7 290.7 102.5 C289.8 102.3 288.8 102.2 288.1 101.9 C287.4 101.6 286.6 101.5 286.4 100.8 C286.2 100.1 286.9 98.6 287.0 97.5 C287.0 96.5 287.0 95.0 286.8 94.3 C286.6 93.6 286.5 93.3 286.0 93.3 C285.4 93.2 283.9 93.6 283.3 94.0 C282.6 94.5 282.8 95.7 282.1 95.9 C281.4 96.1 279.9 95.6 279.2 95.0 C278.6 94.4 278.7 93.0 278.1 92.3 C277.5 91.6 276.3 91.4 275.8 90.7 C275.2 89.9 275.0 88.8 275.0 87.8 C275.1 86.8 275.7 84.7 275.9 84.6 C276.2 84.4 275.8 86.4 276.4 86.7 C277.0 87.0 279.0 86.0 279.6 86.2 C280.2 86.4 279.8 87.2 280.2 87.8 C280.6 88.5 281.8 89.4 282.0 90.0 C282.2 90.6 281.0 91.1 281.3 91.6 C281.6 92.0 283.0 92.6 283.7 92.9 C284.3 93.1 285.0 92.9 285.3 93.0" fill="none" stroke="#1a1a1a" stroke-width="0.8" stroke-linejoin="round" stroke-linecap="round"/>
<path d="M302.1 111.0 C302.5 110.9 304.5 110.4 304.5 110.7 C304.5 110.9 303.1 112.3 302.2 112.5 C301.3 112.7 299.8 111.8 299.0 111.9 C298.3 112.0 298.3 113.2 297.8 113.1 C297.2 112.9 296.2 111.6 295.5 110.8 C294.9 110.0 293.7 108.9 293.8 108.1 C294.0 107.3 295.8 106.9 296.4 106.2 C297.1 105.5 296.9 104.4 297.6 104.0 C298.3 103.7 300.1 103.8 300.6 104.2 C301.1 104.6 300.5 105.8 300.7 106.4 C301.0 107.0 301.6 107.4 302.2 107.6 C302.8 107.9 303.9 108.0 304.3 107.8 C304.7 107.6 304.6 106.8 304.6 106.4 C304.7 105.9 305.2 105.5 304.8 105.1 C304.4 104.6 302.5 104.0 302.3 103.6 C302.1 103.1 303.2 102.7 303.5 102.2 C303.9 101.8 304.1 100.9 304.6 100.9 C305.1 101.0 306.2 101.8 306.6 102.5 C307.0 103.2 306.7 104.2 307.0 105.0 C307.4 105.7 308.2 106.4 308.8 107.2 C309.4 107.9 310.1 109.2 310.6 109.3 C311.0 109.4 310.9 107.8 311.3 107.6 C311.6 107.4 312.7 108.5 312.6 108.1 C312.5 107.7 311.4 105.9 310.9 105.3 C310.4 104.8 310.2 105.1 309.6 104.6 C309.0 104.2 308.1 103.2 307.3 102.8 C306.6 102.3 306.0 101.9 305.2 101.9 C304.5 101.9 303.4 102.9 302.7 102.6 C302.0 102.4 301.4 101.0 300.9 100.3 C300.4 99.7 300.1 99.5 299.8 98.9 C299.4 98.4 298.9 97.7 298.9 97.0 C298.8 96.2 299.5 95.2 299.6 94.5 C299.8 93.8 299.5 93.2 299.7 92.8 C299.9 92.3 300.2 92.0 300.7 91.7 C301.2 91.4 302.3 90.8 302.9 90.8 C303.5 90.8 303.6 92.0 304.2 91.8 C304.8 91.6 305.9 90.1 306.7 89.6 C307.4 89.0 308.1 88.4 308.7 88.4 C309.2 88.4 309.2 89.3 309.8 89.6 C310.4 90.0 311.6 90.1 312.2 90.4 C312.8 90.8 313.0 90.9 313.2 91.5 C313.4 92.1 313.5 93.8 313.6 94.2" fill="none" stroke="#1a1a1a" stroke-width="0.8" stroke-linejoin="round" stroke-linecap="round"/>
<path d="M298.0 112.1 C298.0 112.4 298.4 113.8 298.2 114.2 C297.9 114.5 296.9 114.4 296.5 114.3 C296.2 114.1 296.5 113.2 295.9 113.1 C295.3 113.1 293.8 113.5 292.9 113.8 C292.0 114.1 290.9 114.1 290.5 114.8 C290.1 115.5 290.3 117.4 290.6 118.0 C290.9 118.7 291.9 118.3 292.3 118.8 C292.7 119.3 292.5 120.7 293.2 121.1 C293.8 121.6 295.9 121.7 296.4 121.5 C296.9 121.3 296.7 120.1 296.2 119.9 C295.7 119.8 293.8 120.9 293.4 120.6 C292.9 120.3 293.8 119.0 293.6 118.1 C293.4 117.2 292.8 115.6 292.2 115.1 C291.5 114.6 290.4 114.8 289.7 115.0 C289.1 115.1 289.2 115.6 288.5 115.8 C287.7 116.0 286.2 116.2 285.3 116.2 C284.5 116.3 284.1 116.2 283.4 116.3 C282.7 116.4 281.6 116.4 281.2 117.0 C280.8 117.7 281.2 119.3 281.2 120.2 C281.1 121.1 281.0 122.3 281.1 122.2 C281.2 122.1 281.7 120.5 281.7 119.7 C281.7 118.9 281.4 118.1 281.0 117.5 C280.5 116.9 279.1 116.8 278.8 116.1 C278.5 115.4 279.1 114.0 279.2 113.2 C279.3 112.4 279.0 111.5 279.3 111.1 C279.7 110.6 280.8 110.4 281.3 110.5 C281.8 110.7 281.7 111.9 282.1 112.2 C282.6 112.6 283.4 112.4 284.1 112.8 C284.7 113.1 285.7 114.1 286.3 114.3 C286.9 114.5 286.9 114.2 287.6 114.2 C288.4 114.2 289.9 114.2 290.6 114.4 C291.3 114.6 291.8 115.0 292.0 115.2" fill="none" stroke="#1a1a1a" stroke-width="0.8" stroke-linejoin="round" stroke-linecap="round"/>
<rect x="28.00" y="42.00" width="138.00" height="139.40" fill="none" stroke="#000" stroke-width="2"/>
<rect x="234.00" y="42.50" width="138.00" height="139.50" fill="none" stroke="#000" stroke-width="2"/>
<line x1="465.5" y1="38.5" x2="465.5" y2="171.6" stroke="#555" stroke-width="1.3"/>
<line x1="462.5" y1="171.6" x2="465.5" y2="171.6" stroke="#555" stroke-width="1.2"/>
<line x1="462.5" y1="147.6" x2="465.5" y2="147.6" stroke="#555" stroke-width="1.2"/>
<line x1="462.5" y1="123.6" x2="465.5" y2="123.6" stroke="#555" stroke-width="1.2"/>
<line x1="462.5" y1="99.6" x2="465.5" y2="99.6" stroke="#555" stroke-width="1.2"/>
<line x1="462.5" y1="75.6" x2="465.5" y2="75.6" stroke="#555" stroke-width="1.2"/>
<line x1="462.5" y1="51.599999999999994" x2="465.5" y2="51.599999999999994" stroke="#555" stroke-width="1.2"/>
<rect x="470.40" y="115.50" width="21.40" height="56.10" fill="#fff" stroke="#555" stroke-width="1.2"/>
<rect x="491.80" y="52.70" width="21.20" height="118.90" fill="#585858" stroke="#222" stroke-width="1.2"/>
<line x1="463.5" y1="171.79999999999998" x2="519" y2="171.79999999999998" stroke="#333" stroke-width="1.3"/>
<line x1="481.5" y1="111.6" x2="481.5" y2="120.2" stroke="#222" stroke-width="1.2"/>
<line x1="479.5" y1="111.6" x2="483.5" y2="111.6" stroke="#222" stroke-width="1.1"/>
<line x1="479.5" y1="120.2" x2="483.5" y2="120.2" stroke="#222" stroke-width="1.1"/>
<line x1="502.2" y1="47.3" x2="502.2" y2="56.8" stroke="#222" stroke-width="1.2"/>
<line x1="500.2" y1="47.3" x2="504.2" y2="47.3" stroke="#222" stroke-width="1.1"/>
<line x1="500.2" y1="56.8" x2="504.2" y2="56.8" stroke="#222" stroke-width="1.1"/>
<path d="M481 33.3 L481 24 L502.7 24 L502.7 33.3" stroke="#111" stroke-width="1.7" fill="none" stroke-linejoin="round" stroke-linecap="round"/>
<line x1="82.5" y1="276.6" x2="82.5" y2="402" stroke="#555" stroke-width="1.3"/>
<line x1="79.5" y1="402" x2="82.5" y2="402" stroke="#555" stroke-width="1.2"/>
<line x1="79.5" y1="377.0" x2="82.5" y2="377.0" stroke="#555" stroke-width="1.2"/>
<line x1="79.5" y1="352.0" x2="82.5" y2="352.0" stroke="#555" stroke-width="1.2"/>
<line x1="79.5" y1="327.0" x2="82.5" y2="327.0" stroke="#555" stroke-width="1.2"/>
<line x1="79.5" y1="302.0" x2="82.5" y2="302.0" stroke="#555" stroke-width="1.2"/>
<line x1="79.5" y1="277.0" x2="82.5" y2="277.0" stroke="#555" stroke-width="1.2"/>
<rect x="87.50" y="289.62" width="20.20" height="112.38" fill="#fff" stroke="#555" stroke-width="1.2"/>
<rect x="107.70" y="317.38" width="19.90" height="84.62" fill="#585858" stroke="#222" stroke-width="1.2"/>
<line x1="80.5" y1="402.2" x2="132.6" y2="402.2" stroke="#333" stroke-width="1.3"/>
<line x1="97.6" y1="283.4" x2="97.6" y2="295.9" stroke="#222" stroke-width="1.2"/>
<line x1="95.6" y1="283.4" x2="99.6" y2="283.4" stroke="#222" stroke-width="1.1"/>
<line x1="95.6" y1="295.9" x2="99.6" y2="295.9" stroke="#222" stroke-width="1.1"/>
<line x1="117.8" y1="312.7" x2="117.8" y2="322" stroke="#222" stroke-width="1.2"/>
<line x1="115.8" y1="312.7" x2="119.8" y2="312.7" stroke="#222" stroke-width="1.1"/>
<line x1="115.8" y1="322" x2="119.8" y2="322" stroke="#222" stroke-width="1.1"/>
<path d="M97 272.6 L97 263.8 L117.3 263.8 L117.3 272.6" stroke="#111" stroke-width="1.7" fill="none" stroke-linejoin="round" stroke-linecap="round"/>
<line x1="221.3" y1="276" x2="221.3" y2="402.3" stroke="#555" stroke-width="1.3"/>
<line x1="218.3" y1="402.3" x2="221.3" y2="402.3" stroke="#555" stroke-width="1.2"/>
<line x1="218.3" y1="366.40000000000003" x2="221.3" y2="366.40000000000003" stroke="#555" stroke-width="1.2"/>
<line x1="218.3" y1="330.5" x2="221.3" y2="330.5" stroke="#555" stroke-width="1.2"/>
<line x1="218.3" y1="294.6" x2="221.3" y2="294.6" stroke="#555" stroke-width="1.2"/>
<rect x="225.90" y="310.54" width="20.50" height="91.76" fill="#fff" stroke="#555" stroke-width="1.2"/>
<rect x="246.40" y="293.72" width="20.20" height="108.58" fill="#585858" stroke="#222" stroke-width="1.2"/>
<line x1="219.3" y1="402.5" x2="270.3" y2="402.5" stroke="#333" stroke-width="1.3"/>
<line x1="236.4" y1="308" x2="236.4" y2="313.5" stroke="#222" stroke-width="1.2"/>
<line x1="234.4" y1="308" x2="238.4" y2="308" stroke="#222" stroke-width="1.1"/>
<line x1="234.4" y1="313.5" x2="238.4" y2="313.5" stroke="#222" stroke-width="1.1"/>
<line x1="256.4" y1="289.2" x2="256.4" y2="297.4" stroke="#222" stroke-width="1.2"/>
<line x1="254.39999999999998" y1="289.2" x2="258.4" y2="289.2" stroke="#222" stroke-width="1.1"/>
<line x1="254.39999999999998" y1="297.4" x2="258.4" y2="297.4" stroke="#222" stroke-width="1.1"/>
<path d="M235.8 272.6 L235.8 263.8 L256.2 263.8 L256.2 272.6" stroke="#111" stroke-width="1.7" fill="none" stroke-linejoin="round" stroke-linecap="round"/>
<line x1="348.5" y1="275.5" x2="348.5" y2="401.3" stroke="#555" stroke-width="1.3"/>
<line x1="345.5" y1="401.3" x2="348.5" y2="401.3" stroke="#555" stroke-width="1.2"/>
<line x1="345.5" y1="370.15000000000003" x2="348.5" y2="370.15000000000003" stroke="#555" stroke-width="1.2"/>
<line x1="345.5" y1="339.0" x2="348.5" y2="339.0" stroke="#555" stroke-width="1.2"/>
<line x1="345.5" y1="307.85" x2="348.5" y2="307.85" stroke="#555" stroke-width="1.2"/>
<line x1="345.5" y1="276.7" x2="348.5" y2="276.7" stroke="#555" stroke-width="1.2"/>
<rect x="353.40" y="310.22" width="19.60" height="91.08" fill="#fff" stroke="#555" stroke-width="1.2"/>
<rect x="373.00" y="336.07" width="20.10" height="65.23" fill="#585858" stroke="#222" stroke-width="1.2"/>
<rect x="403.10" y="308.04" width="19.50" height="93.26" fill="#fff" stroke="#555" stroke-width="1.2"/>
<rect x="422.60" y="281.56" width="20.20" height="119.74" fill="#585858" stroke="#222" stroke-width="1.2"/>
<line x1="346.5" y1="401.5" x2="447.7" y2="401.5" stroke="#333" stroke-width="1.3"/>
<line x1="363.4" y1="307.8" x2="363.4" y2="312.1" stroke="#222" stroke-width="1.2"/>
<line x1="361.4" y1="307.8" x2="365.4" y2="307.8" stroke="#222" stroke-width="1.1"/>
<line x1="361.4" y1="312.1" x2="365.4" y2="312.1" stroke="#222" stroke-width="1.1"/>
<line x1="383.3" y1="334.4" x2="383.3" y2="338.2" stroke="#222" stroke-width="1.2"/>
<line x1="381.3" y1="334.4" x2="385.3" y2="334.4" stroke="#222" stroke-width="1.1"/>
<line x1="381.3" y1="338.2" x2="385.3" y2="338.2" stroke="#222" stroke-width="1.1"/>
<line x1="412.5" y1="305.3" x2="412.5" y2="310.0" stroke="#222" stroke-width="1.2"/>
<line x1="410.5" y1="305.3" x2="414.5" y2="305.3" stroke="#222" stroke-width="1.1"/>
<line x1="410.5" y1="310.0" x2="414.5" y2="310.0" stroke="#222" stroke-width="1.1"/>
<line x1="432.7" y1="279.5" x2="432.7" y2="283.6" stroke="#222" stroke-width="1.2"/>
<line x1="430.7" y1="279.5" x2="434.7" y2="279.5" stroke="#222" stroke-width="1.1"/>
<line x1="430.7" y1="283.6" x2="434.7" y2="283.6" stroke="#222" stroke-width="1.1"/>
<path d="M363.8 272.6 L363.8 263.8 L384.0 263.8 L384.0 272.6" stroke="#111" stroke-width="1.7" fill="none" stroke-linejoin="round" stroke-linecap="round"/>
<path d="M412.1 272.6 L412.1 263.8 L432.1 263.8 L432.1 272.6" stroke="#111" stroke-width="1.7" fill="none" stroke-linejoin="round" stroke-linecap="round"/>
<text x="9.75" y="10.25" font-size="25.5" text-anchor="middle" dominant-baseline="central" font-weight="bold">A</text>
<text x="437.37" y="10.62" font-size="25.5" text-anchor="middle" dominant-baseline="central" font-weight="bold">B</text>
<text x="9.00" y="249.25" font-size="25.5" text-anchor="middle" dominant-baseline="central" font-weight="bold">C</text>
<text x="96.50" y="11.88" font-size="13" text-anchor="middle" dominant-baseline="central" stroke="#000" stroke-width="0.2">WT</text>
<text x="303.13" y="11.50" font-size="13.3" text-anchor="middle" dominant-baseline="central" stroke="#000" stroke-width="0.2">Lsc KO</text>
<text x="488.50" y="6.88" font-size="12.6" text-anchor="middle" dominant-baseline="central" stroke="#000" stroke-width="0.2"><tspan font-style="italic">P</tspan> &lt;.001</text>
<text x="95.75" y="33.63" font-size="10.6" text-anchor="middle" dominant-baseline="central" stroke="#000" stroke-width="0.2">150</text>
<text x="11.87" y="113.62" font-size="11" text-anchor="middle" dominant-baseline="central" stroke="#000" stroke-width="0.2">-150</text>
<text x="181.88" y="113.37" font-size="10.6" text-anchor="middle" dominant-baseline="central" stroke="#000" stroke-width="0.2">150</text>
<text x="95.75" y="194.63" font-size="11" text-anchor="middle" dominant-baseline="central" stroke="#000" stroke-width="0.2">-150</text>
<text x="301.75" y="33.62" font-size="10.6" text-anchor="middle" dominant-baseline="central" stroke="#000" stroke-width="0.2">150</text>
<text x="215.75" y="113.62" font-size="11" text-anchor="middle" dominant-baseline="central" stroke="#000" stroke-width="0.2">-150</text>
<text x="385.75" y="113.62" font-size="10.6" text-anchor="middle" dominant-baseline="central" stroke="#000" stroke-width="0.2">150</text>
<text x="300.88" y="194.44" font-size="11" text-anchor="middle" dominant-baseline="central" stroke="#000" stroke-width="0.2">-150</text>
<text x="433.97" y="102.55" font-size="13.1" text-anchor="middle" dominant-baseline="central" transform="rotate(-90 433.97 102.55)" stroke="#000" stroke-width="0.2">Speed (µm/ min)</text>
<text x="486.25" y="206.75" font-size="10.2" text-anchor="middle" dominant-baseline="central" transform="rotate(-90 486.25 206.75)" stroke="#000" stroke-width="0.2">WT</text>
<text x="502.75" y="197.00" font-size="10.2" text-anchor="middle" dominant-baseline="central" transform="rotate(-90 502.75 197.00)" stroke="#000" stroke-width="0.2">Lsc KO</text>
<text x="103.15" y="246.97" font-size="12.1" text-anchor="middle" dominant-baseline="central" stroke="#000" stroke-width="0.2"><tspan font-style="italic">P</tspan> &lt; .001</text>
<text x="243.15" y="246.97" font-size="12.1" text-anchor="middle" dominant-baseline="central" stroke="#000" stroke-width="0.2"><tspan font-style="italic">P</tspan> &lt; .001</text>
<text x="367.15" y="246.97" font-size="12.1" text-anchor="middle" dominant-baseline="central" stroke="#000" stroke-width="0.2"><tspan font-style="italic">P</tspan> &lt; .001</text>
<text x="427.45" y="247.52" font-size="12.1" text-anchor="middle" dominant-baseline="central" stroke="#000" stroke-width="0.2"><tspan font-style="italic">P</tspan> &lt; .001</text>
<text x="49.70" y="339.82" font-size="12.65" text-anchor="middle" dominant-baseline="central" transform="rotate(-90 49.70 339.82)" stroke="#000" stroke-width="0.2">Directionality (µm/ µm)</text>
<text x="187.77" y="340.27" font-size="12.75" text-anchor="middle" dominant-baseline="central" transform="rotate(-90 187.77 340.27)" stroke="#000" stroke-width="0.2">Angle per turn (degrees)</text>
<text x="317.35" y="334.50" font-size="12.4" text-anchor="middle" dominant-baseline="central" transform="rotate(-90 317.35 334.50)" stroke="#000" stroke-width="0.2">Turns&#160; (turns/ 15 min)</text>
<text x="372.00" y="452.50" font-size="12.4" text-anchor="middle" dominant-baseline="central" stroke="#000" stroke-width="0.2">≤30 deg</text>
<text x="431.88" y="452.50" font-size="12.4" text-anchor="middle" dominant-baseline="central" stroke="#000" stroke-width="0.2">&gt;30 deg</text>
<text x="102.62" y="432.00" font-size="10.2" text-anchor="middle" dominant-baseline="central" transform="rotate(-90 102.62 432.00)" stroke="#000" stroke-width="0.2">WT</text>
<text x="117.87" y="423.75" font-size="10.2" text-anchor="middle" dominant-baseline="central" transform="rotate(-90 117.87 423.75)" stroke="#000" stroke-width="0.2">Lsc KO</text>
<text x="240.25" y="432.13" font-size="10.2" text-anchor="middle" dominant-baseline="central" transform="rotate(-90 240.25 432.13)" stroke="#000" stroke-width="0.2">WT</text>
<text x="254.75" y="424.00" font-size="10.2" text-anchor="middle" dominant-baseline="central" transform="rotate(-90 254.75 424.00)" stroke="#000" stroke-width="0.2">Lsc KO</text>
<text x="367.37" y="432.00" font-size="10.2" text-anchor="middle" dominant-baseline="central" transform="rotate(-90 367.37 432.00)" stroke="#000" stroke-width="0.2">WT</text>
<text x="383.37" y="423.75" font-size="10.2" text-anchor="middle" dominant-baseline="central" transform="rotate(-90 383.37 423.75)" stroke="#000" stroke-width="0.2">Lsc KO</text>
<text x="417.62" y="432.00" font-size="10.2" text-anchor="middle" dominant-baseline="central" transform="rotate(-90 417.62 432.00)" stroke="#000" stroke-width="0.2">WT</text>
<text x="433.12" y="423.75" font-size="10.2" text-anchor="middle" dominant-baseline="central" transform="rotate(-90 433.12 423.75)" stroke="#000" stroke-width="0.2">Lsc KO</text>
<text x="459.68" y="171.09" font-size="11" text-anchor="end" dominant-baseline="central" stroke="#000" stroke-width="0.2">0</text>
<text x="459.40" y="147.30" font-size="11" text-anchor="end" dominant-baseline="central" stroke="#000" stroke-width="0.2">2</text>
<text x="459.40" y="123.30" font-size="11" text-anchor="end" dominant-baseline="central" stroke="#000" stroke-width="0.2">4</text>
<text x="459.40" y="99.30" font-size="11" text-anchor="end" dominant-baseline="central" stroke="#000" stroke-width="0.2">6</text>
<text x="459.40" y="75.30" font-size="11" text-anchor="end" dominant-baseline="central" stroke="#000" stroke-width="0.2">8</text>
<text x="460.17" y="50.91" font-size="11" text-anchor="end" dominant-baseline="central" stroke="#000" stroke-width="0.2">10</text>
<text x="77.00" y="403.36" font-size="11" text-anchor="end" dominant-baseline="central" stroke="#000" stroke-width="0.2">0</text>
<text x="77.00" y="378.36" font-size="11" text-anchor="end" dominant-baseline="central" stroke="#000" stroke-width="0.2">.10</text>
<text x="77.00" y="353.36" font-size="11" text-anchor="end" dominant-baseline="central" stroke="#000" stroke-width="0.2">.20</text>
<text x="77.00" y="328.36" font-size="11" text-anchor="end" dominant-baseline="central" stroke="#000" stroke-width="0.2">.30</text>
<text x="77.00" y="303.36" font-size="11" text-anchor="end" dominant-baseline="central" stroke="#000" stroke-width="0.2">.40</text>
<text x="77.00" y="278.36" font-size="11" text-anchor="end" dominant-baseline="central" stroke="#000" stroke-width="0.2">.50</text>
<text x="216.63" y="402.23" font-size="11.5" text-anchor="end" dominant-baseline="central" stroke="#000" stroke-width="0.2">0</text>
<text x="216.63" y="366.33" font-size="11.5" text-anchor="end" dominant-baseline="central" stroke="#000" stroke-width="0.2">20</text>
<text x="216.63" y="330.43" font-size="11.5" text-anchor="end" dominant-baseline="central" stroke="#000" stroke-width="0.2">40</text>
<text x="216.63" y="294.53" font-size="11.5" text-anchor="end" dominant-baseline="central" stroke="#000" stroke-width="0.2">60</text>
<text x="342.00" y="401.50" font-size="11.5" text-anchor="end" dominant-baseline="central" stroke="#000" stroke-width="0.2">0</text>
<text x="342.00" y="370.35" font-size="11.5" text-anchor="end" dominant-baseline="central" stroke="#000" stroke-width="0.2">10</text>
<text x="342.00" y="339.20" font-size="11.5" text-anchor="end" dominant-baseline="central" stroke="#000" stroke-width="0.2">20</text>
<text x="342.00" y="308.05" font-size="11.5" text-anchor="end" dominant-baseline="central" stroke="#000" stroke-width="0.2">30</text>
<text x="342.00" y="276.90" font-size="11.5" text-anchor="end" dominant-baseline="central" stroke="#000" stroke-width="0.2">40</text>
</svg></body></html>
